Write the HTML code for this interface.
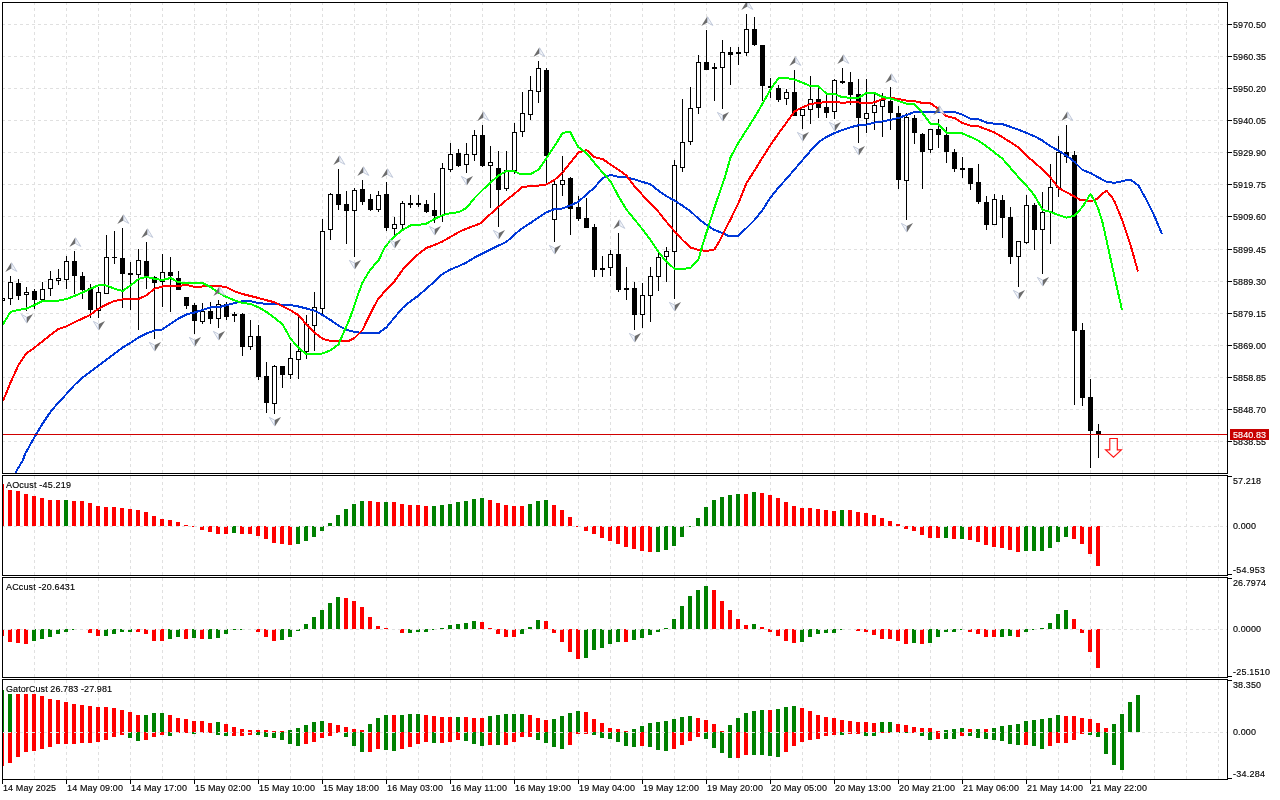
<!DOCTYPE html>
<html><head><meta charset="utf-8"><title>Chart</title>
<style>html,body{margin:0;padding:0;background:#fff;overflow:hidden}svg{display:block}</style></head>
<body><svg width="1280" height="800" viewBox="0 0 1280 800" shape-rendering="crispEdges">
<rect x="0" y="0" width="1280" height="800" fill="#fff"/>
<defs>
<pattern id="vd0" patternUnits="userSpaceOnUse" x="0" y="2" width="1280" height="6"><rect x="0" y="0" width="1280" height="3" fill="#e0e0e0"/></pattern>
<pattern id="vd1" patternUnits="userSpaceOnUse" x="0" y="476" width="1280" height="6"><rect x="0" y="0" width="1280" height="3" fill="#e0e0e0"/></pattern>
<pattern id="vd2" patternUnits="userSpaceOnUse" x="0" y="578" width="1280" height="6"><rect x="0" y="0" width="1280" height="3" fill="#e0e0e0"/></pattern>
<pattern id="vd3" patternUnits="userSpaceOnUse" x="0" y="680" width="1280" height="6"><rect x="0" y="0" width="1280" height="3" fill="#e0e0e0"/></pattern>
<pattern id="hd" patternUnits="userSpaceOnUse" x="2" y="0" width="6" height="800"><rect x="0" y="0" width="3" height="800" fill="#e0e0e0"/></pattern>
<clipPath id="cm"><rect x="3" y="3" width="1224" height="470"/></clipPath>
</defs>
<rect x="34" y="3" width="1" height="470" fill="url(#vd0)"/>
<rect x="66" y="3" width="1" height="470" fill="url(#vd0)"/>
<rect x="98" y="3" width="1" height="470" fill="url(#vd0)"/>
<rect x="130" y="3" width="1" height="470" fill="url(#vd0)"/>
<rect x="162" y="3" width="1" height="470" fill="url(#vd0)"/>
<rect x="194" y="3" width="1" height="470" fill="url(#vd0)"/>
<rect x="226" y="3" width="1" height="470" fill="url(#vd0)"/>
<rect x="258" y="3" width="1" height="470" fill="url(#vd0)"/>
<rect x="290" y="3" width="1" height="470" fill="url(#vd0)"/>
<rect x="322" y="3" width="1" height="470" fill="url(#vd0)"/>
<rect x="354" y="3" width="1" height="470" fill="url(#vd0)"/>
<rect x="386" y="3" width="1" height="470" fill="url(#vd0)"/>
<rect x="418" y="3" width="1" height="470" fill="url(#vd0)"/>
<rect x="450" y="3" width="1" height="470" fill="url(#vd0)"/>
<rect x="482" y="3" width="1" height="470" fill="url(#vd0)"/>
<rect x="514" y="3" width="1" height="470" fill="url(#vd0)"/>
<rect x="546" y="3" width="1" height="470" fill="url(#vd0)"/>
<rect x="578" y="3" width="1" height="470" fill="url(#vd0)"/>
<rect x="610" y="3" width="1" height="470" fill="url(#vd0)"/>
<rect x="642" y="3" width="1" height="470" fill="url(#vd0)"/>
<rect x="674" y="3" width="1" height="470" fill="url(#vd0)"/>
<rect x="706" y="3" width="1" height="470" fill="url(#vd0)"/>
<rect x="738" y="3" width="1" height="470" fill="url(#vd0)"/>
<rect x="770" y="3" width="1" height="470" fill="url(#vd0)"/>
<rect x="802" y="3" width="1" height="470" fill="url(#vd0)"/>
<rect x="834" y="3" width="1" height="470" fill="url(#vd0)"/>
<rect x="866" y="3" width="1" height="470" fill="url(#vd0)"/>
<rect x="898" y="3" width="1" height="470" fill="url(#vd0)"/>
<rect x="930" y="3" width="1" height="470" fill="url(#vd0)"/>
<rect x="962" y="3" width="1" height="470" fill="url(#vd0)"/>
<rect x="994" y="3" width="1" height="470" fill="url(#vd0)"/>
<rect x="1026" y="3" width="1" height="470" fill="url(#vd0)"/>
<rect x="1058" y="3" width="1" height="470" fill="url(#vd0)"/>
<rect x="1090" y="3" width="1" height="470" fill="url(#vd0)"/>
<rect x="1122" y="3" width="1" height="470" fill="url(#vd0)"/>
<rect x="1154" y="3" width="1" height="470" fill="url(#vd0)"/>
<rect x="1186" y="3" width="1" height="470" fill="url(#vd0)"/>
<rect x="1218" y="3" width="1" height="470" fill="url(#vd0)"/>
<rect x="34" y="476" width="1" height="99" fill="url(#vd1)"/>
<rect x="66" y="476" width="1" height="99" fill="url(#vd1)"/>
<rect x="98" y="476" width="1" height="99" fill="url(#vd1)"/>
<rect x="130" y="476" width="1" height="99" fill="url(#vd1)"/>
<rect x="162" y="476" width="1" height="99" fill="url(#vd1)"/>
<rect x="194" y="476" width="1" height="99" fill="url(#vd1)"/>
<rect x="226" y="476" width="1" height="99" fill="url(#vd1)"/>
<rect x="258" y="476" width="1" height="99" fill="url(#vd1)"/>
<rect x="290" y="476" width="1" height="99" fill="url(#vd1)"/>
<rect x="322" y="476" width="1" height="99" fill="url(#vd1)"/>
<rect x="354" y="476" width="1" height="99" fill="url(#vd1)"/>
<rect x="386" y="476" width="1" height="99" fill="url(#vd1)"/>
<rect x="418" y="476" width="1" height="99" fill="url(#vd1)"/>
<rect x="450" y="476" width="1" height="99" fill="url(#vd1)"/>
<rect x="482" y="476" width="1" height="99" fill="url(#vd1)"/>
<rect x="514" y="476" width="1" height="99" fill="url(#vd1)"/>
<rect x="546" y="476" width="1" height="99" fill="url(#vd1)"/>
<rect x="578" y="476" width="1" height="99" fill="url(#vd1)"/>
<rect x="610" y="476" width="1" height="99" fill="url(#vd1)"/>
<rect x="642" y="476" width="1" height="99" fill="url(#vd1)"/>
<rect x="674" y="476" width="1" height="99" fill="url(#vd1)"/>
<rect x="706" y="476" width="1" height="99" fill="url(#vd1)"/>
<rect x="738" y="476" width="1" height="99" fill="url(#vd1)"/>
<rect x="770" y="476" width="1" height="99" fill="url(#vd1)"/>
<rect x="802" y="476" width="1" height="99" fill="url(#vd1)"/>
<rect x="834" y="476" width="1" height="99" fill="url(#vd1)"/>
<rect x="866" y="476" width="1" height="99" fill="url(#vd1)"/>
<rect x="898" y="476" width="1" height="99" fill="url(#vd1)"/>
<rect x="930" y="476" width="1" height="99" fill="url(#vd1)"/>
<rect x="962" y="476" width="1" height="99" fill="url(#vd1)"/>
<rect x="994" y="476" width="1" height="99" fill="url(#vd1)"/>
<rect x="1026" y="476" width="1" height="99" fill="url(#vd1)"/>
<rect x="1058" y="476" width="1" height="99" fill="url(#vd1)"/>
<rect x="1090" y="476" width="1" height="99" fill="url(#vd1)"/>
<rect x="1122" y="476" width="1" height="99" fill="url(#vd1)"/>
<rect x="1154" y="476" width="1" height="99" fill="url(#vd1)"/>
<rect x="1186" y="476" width="1" height="99" fill="url(#vd1)"/>
<rect x="1218" y="476" width="1" height="99" fill="url(#vd1)"/>
<rect x="34" y="578" width="1" height="99" fill="url(#vd2)"/>
<rect x="66" y="578" width="1" height="99" fill="url(#vd2)"/>
<rect x="98" y="578" width="1" height="99" fill="url(#vd2)"/>
<rect x="130" y="578" width="1" height="99" fill="url(#vd2)"/>
<rect x="162" y="578" width="1" height="99" fill="url(#vd2)"/>
<rect x="194" y="578" width="1" height="99" fill="url(#vd2)"/>
<rect x="226" y="578" width="1" height="99" fill="url(#vd2)"/>
<rect x="258" y="578" width="1" height="99" fill="url(#vd2)"/>
<rect x="290" y="578" width="1" height="99" fill="url(#vd2)"/>
<rect x="322" y="578" width="1" height="99" fill="url(#vd2)"/>
<rect x="354" y="578" width="1" height="99" fill="url(#vd2)"/>
<rect x="386" y="578" width="1" height="99" fill="url(#vd2)"/>
<rect x="418" y="578" width="1" height="99" fill="url(#vd2)"/>
<rect x="450" y="578" width="1" height="99" fill="url(#vd2)"/>
<rect x="482" y="578" width="1" height="99" fill="url(#vd2)"/>
<rect x="514" y="578" width="1" height="99" fill="url(#vd2)"/>
<rect x="546" y="578" width="1" height="99" fill="url(#vd2)"/>
<rect x="578" y="578" width="1" height="99" fill="url(#vd2)"/>
<rect x="610" y="578" width="1" height="99" fill="url(#vd2)"/>
<rect x="642" y="578" width="1" height="99" fill="url(#vd2)"/>
<rect x="674" y="578" width="1" height="99" fill="url(#vd2)"/>
<rect x="706" y="578" width="1" height="99" fill="url(#vd2)"/>
<rect x="738" y="578" width="1" height="99" fill="url(#vd2)"/>
<rect x="770" y="578" width="1" height="99" fill="url(#vd2)"/>
<rect x="802" y="578" width="1" height="99" fill="url(#vd2)"/>
<rect x="834" y="578" width="1" height="99" fill="url(#vd2)"/>
<rect x="866" y="578" width="1" height="99" fill="url(#vd2)"/>
<rect x="898" y="578" width="1" height="99" fill="url(#vd2)"/>
<rect x="930" y="578" width="1" height="99" fill="url(#vd2)"/>
<rect x="962" y="578" width="1" height="99" fill="url(#vd2)"/>
<rect x="994" y="578" width="1" height="99" fill="url(#vd2)"/>
<rect x="1026" y="578" width="1" height="99" fill="url(#vd2)"/>
<rect x="1058" y="578" width="1" height="99" fill="url(#vd2)"/>
<rect x="1090" y="578" width="1" height="99" fill="url(#vd2)"/>
<rect x="1122" y="578" width="1" height="99" fill="url(#vd2)"/>
<rect x="1154" y="578" width="1" height="99" fill="url(#vd2)"/>
<rect x="1186" y="578" width="1" height="99" fill="url(#vd2)"/>
<rect x="1218" y="578" width="1" height="99" fill="url(#vd2)"/>
<rect x="34" y="680" width="1" height="99" fill="url(#vd3)"/>
<rect x="66" y="680" width="1" height="99" fill="url(#vd3)"/>
<rect x="98" y="680" width="1" height="99" fill="url(#vd3)"/>
<rect x="130" y="680" width="1" height="99" fill="url(#vd3)"/>
<rect x="162" y="680" width="1" height="99" fill="url(#vd3)"/>
<rect x="194" y="680" width="1" height="99" fill="url(#vd3)"/>
<rect x="226" y="680" width="1" height="99" fill="url(#vd3)"/>
<rect x="258" y="680" width="1" height="99" fill="url(#vd3)"/>
<rect x="290" y="680" width="1" height="99" fill="url(#vd3)"/>
<rect x="322" y="680" width="1" height="99" fill="url(#vd3)"/>
<rect x="354" y="680" width="1" height="99" fill="url(#vd3)"/>
<rect x="386" y="680" width="1" height="99" fill="url(#vd3)"/>
<rect x="418" y="680" width="1" height="99" fill="url(#vd3)"/>
<rect x="450" y="680" width="1" height="99" fill="url(#vd3)"/>
<rect x="482" y="680" width="1" height="99" fill="url(#vd3)"/>
<rect x="514" y="680" width="1" height="99" fill="url(#vd3)"/>
<rect x="546" y="680" width="1" height="99" fill="url(#vd3)"/>
<rect x="578" y="680" width="1" height="99" fill="url(#vd3)"/>
<rect x="610" y="680" width="1" height="99" fill="url(#vd3)"/>
<rect x="642" y="680" width="1" height="99" fill="url(#vd3)"/>
<rect x="674" y="680" width="1" height="99" fill="url(#vd3)"/>
<rect x="706" y="680" width="1" height="99" fill="url(#vd3)"/>
<rect x="738" y="680" width="1" height="99" fill="url(#vd3)"/>
<rect x="770" y="680" width="1" height="99" fill="url(#vd3)"/>
<rect x="802" y="680" width="1" height="99" fill="url(#vd3)"/>
<rect x="834" y="680" width="1" height="99" fill="url(#vd3)"/>
<rect x="866" y="680" width="1" height="99" fill="url(#vd3)"/>
<rect x="898" y="680" width="1" height="99" fill="url(#vd3)"/>
<rect x="930" y="680" width="1" height="99" fill="url(#vd3)"/>
<rect x="962" y="680" width="1" height="99" fill="url(#vd3)"/>
<rect x="994" y="680" width="1" height="99" fill="url(#vd3)"/>
<rect x="1026" y="680" width="1" height="99" fill="url(#vd3)"/>
<rect x="1058" y="680" width="1" height="99" fill="url(#vd3)"/>
<rect x="1090" y="680" width="1" height="99" fill="url(#vd3)"/>
<rect x="1122" y="680" width="1" height="99" fill="url(#vd3)"/>
<rect x="1154" y="680" width="1" height="99" fill="url(#vd3)"/>
<rect x="1186" y="680" width="1" height="99" fill="url(#vd3)"/>
<rect x="1218" y="680" width="1" height="99" fill="url(#vd3)"/>
<rect x="3" y="24" width="1224" height="1" fill="url(#hd)"/>
<rect x="3" y="56" width="1224" height="1" fill="url(#hd)"/>
<rect x="3" y="88" width="1224" height="1" fill="url(#hd)"/>
<rect x="3" y="120" width="1224" height="1" fill="url(#hd)"/>
<rect x="3" y="152" width="1224" height="1" fill="url(#hd)"/>
<rect x="3" y="184" width="1224" height="1" fill="url(#hd)"/>
<rect x="3" y="216" width="1224" height="1" fill="url(#hd)"/>
<rect x="3" y="249" width="1224" height="1" fill="url(#hd)"/>
<rect x="3" y="281" width="1224" height="1" fill="url(#hd)"/>
<rect x="3" y="313" width="1224" height="1" fill="url(#hd)"/>
<rect x="3" y="345" width="1224" height="1" fill="url(#hd)"/>
<rect x="3" y="377" width="1224" height="1" fill="url(#hd)"/>
<rect x="3" y="409" width="1224" height="1" fill="url(#hd)"/>
<rect x="3" y="441" width="1224" height="1" fill="url(#hd)"/>
<g clip-path="url(#cm)">
<rect x="2" y="298" width="1" height="3" fill="#000"/>
<rect x="0" y="298" width="5" height="3" fill="#000"/>
<rect x="1" y="299" width="3" height="1" fill="#fff"/>
<rect x="10" y="276" width="1" height="29" fill="#000"/>
<rect x="8" y="282" width="5" height="17" fill="#000"/>
<rect x="9" y="283" width="3" height="15" fill="#fff"/>
<rect x="18" y="279" width="1" height="21" fill="#000"/>
<rect x="16" y="283" width="5" height="13" fill="#000"/>
<rect x="26" y="287" width="1" height="24" fill="#000"/>
<rect x="24" y="292" width="5" height="3" fill="#000"/>
<rect x="25" y="293" width="3" height="1" fill="#fff"/>
<rect x="34" y="289" width="1" height="20" fill="#000"/>
<rect x="32" y="291" width="5" height="9" fill="#000"/>
<rect x="42" y="282" width="1" height="19" fill="#000"/>
<rect x="40" y="289" width="5" height="11" fill="#000"/>
<rect x="41" y="290" width="3" height="9" fill="#fff"/>
<rect x="50" y="271" width="1" height="25" fill="#000"/>
<rect x="48" y="279" width="5" height="10" fill="#000"/>
<rect x="49" y="280" width="3" height="8" fill="#fff"/>
<rect x="58" y="269" width="1" height="16" fill="#000"/>
<rect x="56" y="278" width="5" height="3" fill="#000"/>
<rect x="57" y="279" width="3" height="1" fill="#fff"/>
<rect x="66" y="256" width="1" height="33" fill="#000"/>
<rect x="64" y="261" width="5" height="19" fill="#000"/>
<rect x="65" y="262" width="3" height="17" fill="#fff"/>
<rect x="74" y="251" width="1" height="43" fill="#000"/>
<rect x="72" y="261" width="5" height="15" fill="#000"/>
<rect x="82" y="272" width="1" height="27" fill="#000"/>
<rect x="80" y="276" width="5" height="14" fill="#000"/>
<rect x="90" y="284" width="1" height="34" fill="#000"/>
<rect x="88" y="288" width="5" height="22" fill="#000"/>
<rect x="98" y="287" width="1" height="31" fill="#000"/>
<rect x="96" y="292" width="5" height="19" fill="#000"/>
<rect x="97" y="293" width="3" height="17" fill="#fff"/>
<rect x="106" y="235" width="1" height="59" fill="#000"/>
<rect x="104" y="257" width="5" height="37" fill="#000"/>
<rect x="105" y="258" width="3" height="35" fill="#fff"/>
<rect x="114" y="231" width="1" height="33" fill="#000"/>
<rect x="112" y="257" width="5" height="1" fill="#000"/>
<rect x="122" y="228" width="1" height="80" fill="#000"/>
<rect x="120" y="258" width="5" height="16" fill="#000"/>
<rect x="130" y="262" width="1" height="48" fill="#000"/>
<rect x="128" y="273" width="5" height="2" fill="#000"/>
<rect x="138" y="249" width="1" height="81" fill="#000"/>
<rect x="136" y="260" width="5" height="15" fill="#000"/>
<rect x="137" y="261" width="3" height="13" fill="#fff"/>
<rect x="146" y="242" width="1" height="47" fill="#000"/>
<rect x="144" y="261" width="5" height="16" fill="#000"/>
<rect x="154" y="276" width="1" height="63" fill="#000"/>
<rect x="152" y="277" width="5" height="6" fill="#000"/>
<rect x="162" y="254" width="1" height="53" fill="#000"/>
<rect x="160" y="272" width="5" height="10" fill="#000"/>
<rect x="161" y="273" width="3" height="8" fill="#fff"/>
<rect x="170" y="257" width="1" height="55" fill="#000"/>
<rect x="168" y="272" width="5" height="4" fill="#000"/>
<rect x="178" y="271" width="1" height="19" fill="#000"/>
<rect x="176" y="278" width="5" height="12" fill="#000"/>
<rect x="186" y="297" width="1" height="12" fill="#000"/>
<rect x="184" y="297" width="5" height="9" fill="#000"/>
<rect x="194" y="303" width="1" height="31" fill="#000"/>
<rect x="192" y="305" width="5" height="16" fill="#000"/>
<rect x="202" y="303" width="1" height="21" fill="#000"/>
<rect x="200" y="311" width="5" height="11" fill="#000"/>
<rect x="201" y="312" width="3" height="9" fill="#fff"/>
<rect x="210" y="302" width="1" height="22" fill="#000"/>
<rect x="208" y="311" width="5" height="8" fill="#000"/>
<rect x="218" y="300" width="1" height="28" fill="#000"/>
<rect x="216" y="304" width="5" height="15" fill="#000"/>
<rect x="217" y="305" width="3" height="13" fill="#fff"/>
<rect x="226" y="302" width="1" height="18" fill="#000"/>
<rect x="224" y="304" width="5" height="13" fill="#000"/>
<rect x="234" y="312" width="1" height="10" fill="#000"/>
<rect x="232" y="314" width="5" height="2" fill="#000"/>
<rect x="242" y="313" width="1" height="43" fill="#000"/>
<rect x="240" y="314" width="5" height="33" fill="#000"/>
<rect x="250" y="320" width="1" height="30" fill="#000"/>
<rect x="248" y="336" width="5" height="11" fill="#000"/>
<rect x="249" y="337" width="3" height="9" fill="#fff"/>
<rect x="258" y="325" width="1" height="55" fill="#000"/>
<rect x="256" y="336" width="5" height="41" fill="#000"/>
<rect x="266" y="362" width="1" height="51" fill="#000"/>
<rect x="264" y="376" width="5" height="27" fill="#000"/>
<rect x="274" y="365" width="1" height="49" fill="#000"/>
<rect x="272" y="366" width="5" height="38" fill="#000"/>
<rect x="273" y="367" width="3" height="36" fill="#fff"/>
<rect x="282" y="366" width="1" height="22" fill="#000"/>
<rect x="280" y="366" width="5" height="9" fill="#000"/>
<rect x="290" y="343" width="1" height="36" fill="#000"/>
<rect x="288" y="358" width="5" height="17" fill="#000"/>
<rect x="289" y="359" width="3" height="15" fill="#fff"/>
<rect x="298" y="316" width="1" height="63" fill="#000"/>
<rect x="296" y="351" width="5" height="9" fill="#000"/>
<rect x="297" y="352" width="3" height="7" fill="#fff"/>
<rect x="306" y="315" width="1" height="44" fill="#000"/>
<rect x="304" y="324" width="5" height="28" fill="#000"/>
<rect x="305" y="325" width="3" height="26" fill="#fff"/>
<rect x="314" y="292" width="1" height="59" fill="#000"/>
<rect x="312" y="307" width="5" height="19" fill="#000"/>
<rect x="313" y="308" width="3" height="17" fill="#fff"/>
<rect x="322" y="219" width="1" height="95" fill="#000"/>
<rect x="320" y="231" width="5" height="78" fill="#000"/>
<rect x="321" y="232" width="3" height="76" fill="#fff"/>
<rect x="330" y="193" width="1" height="47" fill="#000"/>
<rect x="328" y="194" width="5" height="36" fill="#000"/>
<rect x="329" y="195" width="3" height="34" fill="#fff"/>
<rect x="338" y="169" width="1" height="41" fill="#000"/>
<rect x="336" y="194" width="5" height="11" fill="#000"/>
<rect x="346" y="191" width="1" height="53" fill="#000"/>
<rect x="344" y="204" width="5" height="7" fill="#000"/>
<rect x="354" y="188" width="1" height="69" fill="#000"/>
<rect x="352" y="190" width="5" height="21" fill="#000"/>
<rect x="353" y="191" width="3" height="19" fill="#fff"/>
<rect x="362" y="180" width="1" height="25" fill="#000"/>
<rect x="360" y="189" width="5" height="13" fill="#000"/>
<rect x="370" y="194" width="1" height="17" fill="#000"/>
<rect x="368" y="199" width="5" height="11" fill="#000"/>
<rect x="378" y="191" width="1" height="21" fill="#000"/>
<rect x="376" y="195" width="5" height="15" fill="#000"/>
<rect x="377" y="196" width="3" height="13" fill="#fff"/>
<rect x="386" y="182" width="1" height="49" fill="#000"/>
<rect x="384" y="194" width="5" height="34" fill="#000"/>
<rect x="394" y="217" width="1" height="19" fill="#000"/>
<rect x="392" y="224" width="5" height="5" fill="#000"/>
<rect x="393" y="225" width="3" height="3" fill="#fff"/>
<rect x="402" y="201" width="1" height="28" fill="#000"/>
<rect x="400" y="203" width="5" height="22" fill="#000"/>
<rect x="401" y="204" width="3" height="20" fill="#fff"/>
<rect x="410" y="195" width="1" height="13" fill="#000"/>
<rect x="408" y="203" width="5" height="2" fill="#000"/>
<rect x="418" y="195" width="1" height="12" fill="#000"/>
<rect x="416" y="203" width="5" height="2" fill="#000"/>
<rect x="426" y="200" width="1" height="13" fill="#000"/>
<rect x="424" y="204" width="5" height="8" fill="#000"/>
<rect x="434" y="193" width="1" height="30" fill="#000"/>
<rect x="432" y="210" width="5" height="6" fill="#000"/>
<rect x="442" y="163" width="1" height="59" fill="#000"/>
<rect x="440" y="168" width="5" height="48" fill="#000"/>
<rect x="441" y="169" width="3" height="46" fill="#fff"/>
<rect x="450" y="143" width="1" height="29" fill="#000"/>
<rect x="448" y="154" width="5" height="16" fill="#000"/>
<rect x="449" y="155" width="3" height="14" fill="#fff"/>
<rect x="458" y="149" width="1" height="18" fill="#000"/>
<rect x="456" y="153" width="5" height="13" fill="#000"/>
<rect x="466" y="143" width="1" height="30" fill="#000"/>
<rect x="464" y="154" width="5" height="11" fill="#000"/>
<rect x="465" y="155" width="3" height="9" fill="#fff"/>
<rect x="474" y="130" width="1" height="31" fill="#000"/>
<rect x="472" y="135" width="5" height="20" fill="#000"/>
<rect x="473" y="136" width="3" height="18" fill="#fff"/>
<rect x="482" y="125" width="1" height="42" fill="#000"/>
<rect x="480" y="135" width="5" height="31" fill="#000"/>
<rect x="490" y="146" width="1" height="62" fill="#000"/>
<rect x="488" y="162" width="5" height="4" fill="#000"/>
<rect x="489" y="163" width="3" height="2" fill="#fff"/>
<rect x="498" y="151" width="1" height="76" fill="#000"/>
<rect x="496" y="168" width="5" height="22" fill="#000"/>
<rect x="506" y="151" width="1" height="40" fill="#000"/>
<rect x="504" y="170" width="5" height="19" fill="#000"/>
<rect x="505" y="171" width="3" height="17" fill="#fff"/>
<rect x="514" y="123" width="1" height="51" fill="#000"/>
<rect x="512" y="132" width="5" height="39" fill="#000"/>
<rect x="513" y="133" width="3" height="37" fill="#fff"/>
<rect x="522" y="92" width="1" height="45" fill="#000"/>
<rect x="520" y="113" width="5" height="19" fill="#000"/>
<rect x="521" y="114" width="3" height="17" fill="#fff"/>
<rect x="530" y="76" width="1" height="44" fill="#000"/>
<rect x="528" y="90" width="5" height="25" fill="#000"/>
<rect x="529" y="91" width="3" height="23" fill="#fff"/>
<rect x="538" y="61" width="1" height="42" fill="#000"/>
<rect x="536" y="68" width="5" height="24" fill="#000"/>
<rect x="537" y="69" width="3" height="22" fill="#fff"/>
<rect x="546" y="68" width="1" height="116" fill="#000"/>
<rect x="544" y="70" width="5" height="86" fill="#000"/>
<rect x="554" y="181" width="1" height="61" fill="#000"/>
<rect x="552" y="184" width="5" height="36" fill="#000"/>
<rect x="553" y="185" width="3" height="34" fill="#fff"/>
<rect x="562" y="156" width="1" height="40" fill="#000"/>
<rect x="560" y="180" width="5" height="5" fill="#000"/>
<rect x="561" y="181" width="3" height="3" fill="#fff"/>
<rect x="570" y="177" width="1" height="58" fill="#000"/>
<rect x="568" y="178" width="5" height="31" fill="#000"/>
<rect x="578" y="196" width="1" height="25" fill="#000"/>
<rect x="576" y="207" width="5" height="12" fill="#000"/>
<rect x="586" y="198" width="1" height="30" fill="#000"/>
<rect x="584" y="218" width="5" height="10" fill="#000"/>
<rect x="594" y="224" width="1" height="53" fill="#000"/>
<rect x="592" y="227" width="5" height="43" fill="#000"/>
<rect x="602" y="256" width="1" height="21" fill="#000"/>
<rect x="600" y="268" width="5" height="2" fill="#000"/>
<rect x="610" y="250" width="1" height="26" fill="#000"/>
<rect x="608" y="254" width="5" height="14" fill="#000"/>
<rect x="609" y="255" width="3" height="12" fill="#fff"/>
<rect x="618" y="233" width="1" height="59" fill="#000"/>
<rect x="616" y="254" width="5" height="36" fill="#000"/>
<rect x="626" y="267" width="1" height="33" fill="#000"/>
<rect x="624" y="288" width="5" height="2" fill="#000"/>
<rect x="634" y="282" width="1" height="48" fill="#000"/>
<rect x="632" y="288" width="5" height="27" fill="#000"/>
<rect x="642" y="283" width="1" height="45" fill="#000"/>
<rect x="640" y="295" width="5" height="20" fill="#000"/>
<rect x="641" y="296" width="3" height="18" fill="#fff"/>
<rect x="650" y="267" width="1" height="55" fill="#000"/>
<rect x="648" y="276" width="5" height="20" fill="#000"/>
<rect x="649" y="277" width="3" height="18" fill="#fff"/>
<rect x="658" y="250" width="1" height="41" fill="#000"/>
<rect x="656" y="257" width="5" height="20" fill="#000"/>
<rect x="657" y="258" width="3" height="18" fill="#fff"/>
<rect x="666" y="247" width="1" height="35" fill="#000"/>
<rect x="664" y="251" width="5" height="6" fill="#000"/>
<rect x="665" y="252" width="3" height="4" fill="#fff"/>
<rect x="674" y="160" width="1" height="139" fill="#000"/>
<rect x="672" y="165" width="5" height="87" fill="#000"/>
<rect x="673" y="166" width="3" height="85" fill="#fff"/>
<rect x="682" y="99" width="1" height="73" fill="#000"/>
<rect x="680" y="142" width="5" height="26" fill="#000"/>
<rect x="681" y="143" width="3" height="24" fill="#fff"/>
<rect x="690" y="87" width="1" height="58" fill="#000"/>
<rect x="688" y="108" width="5" height="34" fill="#000"/>
<rect x="689" y="109" width="3" height="32" fill="#fff"/>
<rect x="698" y="55" width="1" height="59" fill="#000"/>
<rect x="696" y="62" width="5" height="46" fill="#000"/>
<rect x="697" y="63" width="3" height="44" fill="#fff"/>
<rect x="706" y="30" width="1" height="40" fill="#000"/>
<rect x="704" y="62" width="5" height="8" fill="#000"/>
<rect x="714" y="63" width="1" height="38" fill="#000"/>
<rect x="712" y="67" width="5" height="2" fill="#000"/>
<rect x="722" y="40" width="1" height="69" fill="#000"/>
<rect x="720" y="52" width="5" height="16" fill="#000"/>
<rect x="721" y="53" width="3" height="14" fill="#fff"/>
<rect x="730" y="47" width="1" height="38" fill="#000"/>
<rect x="728" y="52" width="5" height="3" fill="#000"/>
<rect x="738" y="47" width="1" height="18" fill="#000"/>
<rect x="736" y="52" width="5" height="2" fill="#000"/>
<rect x="746" y="14" width="1" height="42" fill="#000"/>
<rect x="744" y="29" width="5" height="24" fill="#000"/>
<rect x="745" y="30" width="3" height="22" fill="#fff"/>
<rect x="754" y="17" width="1" height="29" fill="#000"/>
<rect x="752" y="29" width="5" height="16" fill="#000"/>
<rect x="762" y="45" width="1" height="56" fill="#000"/>
<rect x="760" y="45" width="5" height="41" fill="#000"/>
<rect x="770" y="78" width="1" height="20" fill="#000"/>
<rect x="768" y="86" width="5" height="2" fill="#000"/>
<rect x="778" y="85" width="1" height="17" fill="#000"/>
<rect x="776" y="88" width="5" height="12" fill="#000"/>
<rect x="786" y="89" width="1" height="16" fill="#000"/>
<rect x="784" y="92" width="5" height="7" fill="#000"/>
<rect x="785" y="93" width="3" height="5" fill="#fff"/>
<rect x="794" y="70" width="1" height="46" fill="#000"/>
<rect x="792" y="92" width="5" height="24" fill="#000"/>
<rect x="802" y="109" width="1" height="20" fill="#000"/>
<rect x="800" y="109" width="5" height="7" fill="#000"/>
<rect x="801" y="110" width="3" height="5" fill="#fff"/>
<rect x="810" y="76" width="1" height="48" fill="#000"/>
<rect x="808" y="99" width="5" height="11" fill="#000"/>
<rect x="809" y="100" width="3" height="9" fill="#fff"/>
<rect x="818" y="88" width="1" height="30" fill="#000"/>
<rect x="816" y="99" width="5" height="9" fill="#000"/>
<rect x="826" y="95" width="1" height="23" fill="#000"/>
<rect x="824" y="107" width="5" height="6" fill="#000"/>
<rect x="834" y="79" width="1" height="40" fill="#000"/>
<rect x="832" y="80" width="5" height="32" fill="#000"/>
<rect x="833" y="81" width="3" height="30" fill="#fff"/>
<rect x="842" y="68" width="1" height="16" fill="#000"/>
<rect x="840" y="81" width="5" height="2" fill="#000"/>
<rect x="850" y="72" width="1" height="33" fill="#000"/>
<rect x="848" y="82" width="5" height="13" fill="#000"/>
<rect x="858" y="79" width="1" height="64" fill="#000"/>
<rect x="856" y="94" width="5" height="24" fill="#000"/>
<rect x="866" y="79" width="1" height="54" fill="#000"/>
<rect x="864" y="113" width="5" height="6" fill="#000"/>
<rect x="865" y="114" width="3" height="4" fill="#fff"/>
<rect x="874" y="93" width="1" height="37" fill="#000"/>
<rect x="872" y="105" width="5" height="8" fill="#000"/>
<rect x="873" y="106" width="3" height="6" fill="#fff"/>
<rect x="882" y="93" width="1" height="44" fill="#000"/>
<rect x="880" y="100" width="5" height="7" fill="#000"/>
<rect x="881" y="101" width="3" height="5" fill="#fff"/>
<rect x="890" y="87" width="1" height="43" fill="#000"/>
<rect x="888" y="101" width="5" height="12" fill="#000"/>
<rect x="898" y="106" width="1" height="83" fill="#000"/>
<rect x="896" y="113" width="5" height="67" fill="#000"/>
<rect x="906" y="113" width="1" height="107" fill="#000"/>
<rect x="904" y="117" width="5" height="64" fill="#000"/>
<rect x="905" y="118" width="3" height="62" fill="#fff"/>
<rect x="914" y="115" width="1" height="29" fill="#000"/>
<rect x="912" y="118" width="5" height="15" fill="#000"/>
<rect x="922" y="133" width="1" height="56" fill="#000"/>
<rect x="920" y="134" width="5" height="18" fill="#000"/>
<rect x="930" y="129" width="1" height="24" fill="#000"/>
<rect x="928" y="129" width="5" height="21" fill="#000"/>
<rect x="929" y="130" width="3" height="19" fill="#fff"/>
<rect x="938" y="119" width="1" height="29" fill="#000"/>
<rect x="936" y="129" width="5" height="6" fill="#000"/>
<rect x="946" y="127" width="1" height="36" fill="#000"/>
<rect x="944" y="135" width="5" height="17" fill="#000"/>
<rect x="954" y="149" width="1" height="23" fill="#000"/>
<rect x="952" y="152" width="5" height="17" fill="#000"/>
<rect x="962" y="157" width="1" height="21" fill="#000"/>
<rect x="960" y="168" width="5" height="2" fill="#000"/>
<rect x="970" y="168" width="1" height="22" fill="#000"/>
<rect x="968" y="168" width="5" height="16" fill="#000"/>
<rect x="978" y="164" width="1" height="40" fill="#000"/>
<rect x="976" y="182" width="5" height="20" fill="#000"/>
<rect x="986" y="196" width="1" height="34" fill="#000"/>
<rect x="984" y="202" width="5" height="23" fill="#000"/>
<rect x="994" y="194" width="1" height="31" fill="#000"/>
<rect x="992" y="199" width="5" height="26" fill="#000"/>
<rect x="993" y="200" width="3" height="24" fill="#fff"/>
<rect x="1002" y="195" width="1" height="43" fill="#000"/>
<rect x="1000" y="200" width="5" height="18" fill="#000"/>
<rect x="1010" y="207" width="1" height="57" fill="#000"/>
<rect x="1008" y="217" width="5" height="40" fill="#000"/>
<rect x="1018" y="241" width="1" height="46" fill="#000"/>
<rect x="1016" y="241" width="5" height="16" fill="#000"/>
<rect x="1017" y="242" width="3" height="14" fill="#fff"/>
<rect x="1026" y="195" width="1" height="49" fill="#000"/>
<rect x="1024" y="205" width="5" height="38" fill="#000"/>
<rect x="1025" y="206" width="3" height="36" fill="#fff"/>
<rect x="1034" y="203" width="1" height="47" fill="#000"/>
<rect x="1032" y="205" width="5" height="25" fill="#000"/>
<rect x="1042" y="192" width="1" height="82" fill="#000"/>
<rect x="1040" y="212" width="5" height="18" fill="#000"/>
<rect x="1041" y="213" width="3" height="16" fill="#fff"/>
<rect x="1050" y="164" width="1" height="80" fill="#000"/>
<rect x="1048" y="187" width="5" height="25" fill="#000"/>
<rect x="1049" y="188" width="3" height="23" fill="#fff"/>
<rect x="1058" y="136" width="1" height="61" fill="#000"/>
<rect x="1056" y="152" width="5" height="36" fill="#000"/>
<rect x="1057" y="153" width="3" height="34" fill="#fff"/>
<rect x="1066" y="125" width="1" height="38" fill="#000"/>
<rect x="1064" y="152" width="5" height="5" fill="#000"/>
<rect x="1074" y="151" width="1" height="254" fill="#000"/>
<rect x="1072" y="155" width="5" height="176" fill="#000"/>
<rect x="1082" y="323" width="1" height="83" fill="#000"/>
<rect x="1080" y="330" width="5" height="68" fill="#000"/>
<rect x="1090" y="379" width="1" height="89" fill="#000"/>
<rect x="1088" y="397" width="5" height="34" fill="#000"/>
<rect x="1098" y="424" width="1" height="34" fill="#000"/>
<rect x="1096" y="431" width="5" height="4" fill="#000"/>
<polyline points="14.50,475.00 17.00,470.00 23.00,460.00 25.00,454.00 34.00,438.00 42.00,424.50 50.00,412.50 58.00,403.00 66.00,394.50 74.00,385.50 82.00,378.00 90.00,372.00 98.00,366.00 106.00,360.00 114.00,354.00 122.00,348.00 130.50,342.75 138.50,337.50 146.50,333.50 154.50,330.60 162.50,329.40 170.50,323.75 178.50,318.50 186.50,314.40 194.50,312.50 202.50,310.00 210.50,307.50 218.50,307.25 226.50,305.25 234.50,303.00 242.50,301.25 250.50,301.25 258.50,303.00 266.50,304.00 274.50,304.00 282.50,304.75 290.50,305.10 298.50,306.50 306.50,308.50 314.50,310.60 322.50,315.00 330.50,320.00 338.50,325.60 346.50,330.00 354.50,331.90 362.50,333.00 370.50,333.00 378.50,333.00 386.25,327.50 394.50,317.50 402.50,308.00 410.50,301.25 418.50,295.60 426.50,288.40 434.50,281.60 442.50,274.00 450.50,269.40 458.50,266.25 466.50,262.50 474.50,257.50 480.00,254.90 490.50,249.40 498.50,245.60 506.50,241.90 514.50,234.40 522.50,228.00 530.50,223.00 538.50,217.50 546.50,212.20 554.50,209.20 562.50,208.50 570.50,205.40 578.50,201.70 586.50,194.40 594.50,187.50 602.50,178.00 610.50,175.00 618.50,176.90 626.50,177.25 634.50,179.40 640.00,181.10 650.50,184.40 658.50,190.60 666.50,196.25 674.50,200.60 682.50,205.60 690.50,211.25 698.50,218.75 706.50,225.00 714.50,230.00 722.50,233.00 727.50,235.60 738.50,235.60 746.50,228.00 754.50,220.00 762.50,210.00 770.50,197.50 778.50,187.50 786.50,178.75 794.50,169.40 800.00,163.00 811.25,150.00 818.50,142.25 826.50,136.90 834.50,133.00 842.50,130.00 850.50,127.25 858.50,125.25 866.50,124.75 874.50,122.60 882.50,121.40 890.50,119.90 898.50,118.00 906.50,115.00 914.50,112.00 922.50,112.00 930.50,112.00 938.50,112.00 946.50,112.00 954.50,112.00 962.50,114.75 970.50,118.75 978.50,119.40 986.50,122.50 994.50,123.75 1002.50,124.20 1010.50,126.90 1018.50,129.70 1026.50,133.00 1034.50,136.25 1042.50,140.60 1050.50,146.25 1058.50,150.60 1066.50,155.60 1074.50,161.90 1082.50,170.00 1090.50,173.00 1098.50,177.50 1106.50,181.90 1114.50,182.75 1122.50,181.25 1127.50,179.75 1130.50,179.75 1138.50,185.60 1146.50,200.00 1154.50,216.25 1160.00,229.40 1162.00,234.00" fill="none" stroke="#0038d8" stroke-width="2" stroke-linejoin="round"/>
<polyline points="3.00,401.00 10.00,383.75 18.00,366.00 26.00,353.75 34.00,348.00 42.50,341.25 50.50,335.00 58.50,329.00 66.50,326.25 74.50,322.25 82.50,318.50 90.50,314.75 98.50,308.75 106.50,304.40 114.50,301.00 122.50,299.40 130.50,299.00 138.50,299.00 146.50,295.25 154.50,288.75 162.50,286.50 170.50,286.25 178.50,286.00 186.50,285.00 194.50,286.90 202.50,286.50 210.50,286.00 218.50,286.00 226.50,287.25 234.50,291.25 242.50,294.00 250.50,296.00 258.50,298.00 266.50,300.25 274.50,302.25 282.50,306.25 290.50,310.30 298.50,315.30 306.50,324.40 314.50,332.60 322.50,338.75 330.50,341.00 338.50,341.00 348.50,341.00 354.50,338.00 362.50,330.00 370.50,313.30 377.50,300.00 385.00,291.00 394.50,281.25 402.50,270.00 410.50,261.25 418.75,253.75 426.25,248.00 434.50,245.00 442.50,241.50 450.50,236.90 458.50,232.20 466.50,228.60 474.50,225.60 480.00,223.60 490.50,214.00 498.50,206.90 506.50,200.00 514.50,193.75 522.50,186.90 530.50,186.25 538.50,185.60 546.50,184.40 554.50,180.00 562.50,172.50 570.50,162.50 578.50,152.50 586.50,150.00 594.50,157.25 602.50,159.00 610.50,164.40 618.50,169.75 626.50,175.60 634.50,186.25 640.00,192.30 650.50,203.75 658.50,211.90 666.50,221.90 674.50,231.25 682.50,240.00 690.50,247.50 698.50,250.00 706.50,251.00 714.50,249.40 720.00,240.00 723.75,232.50 730.50,219.40 738.50,203.00 743.75,190.00 746.50,183.00 754.50,170.60 762.50,157.50 770.50,145.00 778.50,133.50 786.50,122.50 794.50,111.50 802.50,107.25 810.50,104.00 818.50,103.00 826.50,101.90 834.50,101.90 842.50,102.75 850.50,102.25 858.50,102.50 866.50,103.00 874.50,102.40 882.50,99.00 890.50,97.75 898.50,99.00 906.50,100.60 914.50,101.25 922.50,102.90 930.50,103.30 938.50,109.00 946.50,116.25 954.50,118.00 962.50,123.00 970.50,125.60 978.50,126.25 986.50,129.40 994.50,132.50 1002.50,137.20 1010.50,142.20 1018.50,147.60 1026.50,155.60 1034.50,162.50 1042.50,169.40 1050.50,177.50 1058.50,188.00 1066.50,192.20 1074.50,196.60 1081.25,200.40 1092.50,200.60 1097.50,198.70 1101.25,194.40 1106.50,190.70 1112.50,198.00 1115.00,202.50 1117.00,207.50 1122.50,221.00 1130.50,245.00 1138.00,271.50" fill="none" stroke="#ff0000" stroke-width="2" stroke-linejoin="round"/>
<polyline points="2.50,325.00 10.50,311.90 18.50,310.00 26.50,308.50 34.50,305.00 42.50,301.00 50.50,300.70 58.50,300.60 66.50,299.00 74.50,296.00 82.50,292.50 90.50,288.75 98.50,285.25 102.50,284.75 106.50,285.60 114.50,288.75 122.50,291.00 130.50,285.60 138.50,279.00 146.50,276.90 154.50,278.75 162.50,280.00 170.50,278.00 178.50,282.25 186.50,283.00 194.50,283.00 202.50,283.00 210.50,287.00 218.50,292.75 226.50,297.00 234.50,300.25 242.50,303.00 250.50,304.00 258.50,307.25 266.50,312.00 274.50,317.75 282.50,324.40 290.50,338.50 298.50,348.00 306.50,354.00 314.50,354.00 322.50,353.50 330.50,350.25 338.50,344.40 342.50,335.00 346.50,326.25 350.60,316.25 354.50,305.00 358.75,292.50 362.50,282.50 370.00,270.00 378.75,260.00 385.00,246.90 394.50,236.25 402.50,230.00 410.50,225.40 418.50,225.00 426.50,223.50 434.50,219.00 442.50,215.25 450.50,213.00 458.50,212.25 466.50,208.00 474.50,198.00 482.50,190.00 490.50,182.50 498.50,175.60 506.50,171.00 514.50,171.25 520.00,174.00 530.50,174.00 538.50,169.75 546.50,158.00 554.50,146.25 562.50,133.00 567.50,131.90 570.50,132.50 575.00,141.25 578.50,147.25 586.50,153.00 594.50,163.00 602.50,172.50 610.50,181.25 618.50,196.25 626.50,209.70 634.50,219.40 640.00,226.25 645.00,232.50 650.50,240.00 658.50,251.90 666.50,261.90 674.50,268.75 682.50,269.00 690.50,268.00 698.50,259.40 702.50,245.00 706.50,232.50 710.60,220.00 714.50,207.50 718.75,195.00 722.50,183.75 725.00,177.00 727.50,168.00 730.50,157.50 738.50,142.50 746.50,130.00 754.50,117.50 762.50,103.75 770.50,89.50 778.50,78.00 786.50,78.00 794.50,79.60 802.50,82.75 810.50,86.00 818.50,86.25 826.50,93.75 834.50,94.00 842.50,97.25 850.50,97.75 858.50,97.75 866.50,93.00 874.50,93.00 882.50,96.90 890.50,98.50 898.50,101.00 906.50,103.75 914.50,104.20 922.50,113.00 930.50,123.75 938.50,124.20 946.50,132.75 954.50,133.00 962.50,133.50 970.50,136.90 978.50,140.60 986.50,146.25 994.50,152.50 1002.50,158.75 1010.50,168.00 1018.50,177.20 1026.50,185.60 1034.50,195.50 1042.50,209.75 1050.50,211.90 1058.50,215.00 1066.50,217.75 1074.50,215.60 1082.50,206.90 1090.50,194.00 1095.00,201.25 1098.50,209.40 1102.50,222.50 1106.50,240.00 1113.00,270.00 1117.50,290.00 1122.00,310.00" fill="none" stroke="#00ff00" stroke-width="2" stroke-linejoin="round"/>
<g shape-rendering="geometricPrecision">
<path d="M11.4,262.2 L5.3,271.9 L11.4,268.6 Z" fill="#6c6c6c"/>
<path d="M11.7,263.1 L16.8,271.4 L11.7,268.7 Z" fill="#f4f6fa" stroke="#b4bed2" stroke-width="0.8"/>
<path d="M75.4,237.2 L69.3,246.9 L75.4,243.6 Z" fill="#6c6c6c"/>
<path d="M75.7,238.1 L80.8,246.4 L75.7,243.7 Z" fill="#f4f6fa" stroke="#b4bed2" stroke-width="0.8"/>
<path d="M123.4,214.2 L117.3,223.9 L123.4,220.6 Z" fill="#6c6c6c"/>
<path d="M123.7,215.1 L128.8,223.4 L123.7,220.7 Z" fill="#f4f6fa" stroke="#b4bed2" stroke-width="0.8"/>
<path d="M147.4,228.2 L141.3,237.9 L147.4,234.6 Z" fill="#6c6c6c"/>
<path d="M147.7,229.1 L152.8,237.4 L147.7,234.7 Z" fill="#f4f6fa" stroke="#b4bed2" stroke-width="0.8"/>
<path d="M219.4,286.2 L213.3,295.9 L219.4,292.6 Z" fill="#6c6c6c"/>
<path d="M219.7,287.1 L224.8,295.4 L219.7,292.7 Z" fill="#f4f6fa" stroke="#b4bed2" stroke-width="0.8"/>
<path d="M339.4,155.2 L333.3,164.9 L339.4,161.6 Z" fill="#6c6c6c"/>
<path d="M339.7,156.1 L344.8,164.4 L339.7,161.7 Z" fill="#f4f6fa" stroke="#b4bed2" stroke-width="0.8"/>
<path d="M363.4,166.2 L357.3,175.9 L363.4,172.6 Z" fill="#6c6c6c"/>
<path d="M363.7,167.1 L368.8,175.4 L363.7,172.7 Z" fill="#f4f6fa" stroke="#b4bed2" stroke-width="0.8"/>
<path d="M387.4,168.2 L381.3,177.9 L387.4,174.6 Z" fill="#6c6c6c"/>
<path d="M387.7,169.1 L392.8,177.4 L387.7,174.7 Z" fill="#f4f6fa" stroke="#b4bed2" stroke-width="0.8"/>
<path d="M483.4,111.2 L477.3,120.9 L483.4,117.6 Z" fill="#6c6c6c"/>
<path d="M483.7,112.1 L488.8,120.4 L483.7,117.7 Z" fill="#f4f6fa" stroke="#b4bed2" stroke-width="0.8"/>
<path d="M539.4,47.2 L533.3,56.9 L539.4,53.6 Z" fill="#6c6c6c"/>
<path d="M539.7,48.1 L544.8,56.4 L539.7,53.7 Z" fill="#f4f6fa" stroke="#b4bed2" stroke-width="0.8"/>
<path d="M619.4,219.2 L613.3,228.9 L619.4,225.6 Z" fill="#6c6c6c"/>
<path d="M619.7,220.1 L624.8,228.4 L619.7,225.7 Z" fill="#f4f6fa" stroke="#b4bed2" stroke-width="0.8"/>
<path d="M707.4,16.2 L701.3,25.9 L707.4,22.6 Z" fill="#6c6c6c"/>
<path d="M707.7,17.1 L712.8,25.4 L707.7,22.7 Z" fill="#f4f6fa" stroke="#b4bed2" stroke-width="0.8"/>
<path d="M747.4,0.2 L741.3,9.9 L747.4,6.6 Z" fill="#6c6c6c"/>
<path d="M747.7,1.1 L752.8,9.4 L747.7,6.7 Z" fill="#f4f6fa" stroke="#b4bed2" stroke-width="0.8"/>
<path d="M795.4,56.2 L789.3,65.9 L795.4,62.6 Z" fill="#6c6c6c"/>
<path d="M795.7,57.1 L800.8,65.4 L795.7,62.7 Z" fill="#f4f6fa" stroke="#b4bed2" stroke-width="0.8"/>
<path d="M843.4,54.2 L837.3,63.9 L843.4,60.6 Z" fill="#6c6c6c"/>
<path d="M843.7,55.1 L848.8,63.4 L843.7,60.7 Z" fill="#f4f6fa" stroke="#b4bed2" stroke-width="0.8"/>
<path d="M891.4,73.2 L885.3,82.9 L891.4,79.6 Z" fill="#6c6c6c"/>
<path d="M891.7,74.1 L896.8,82.4 L891.7,79.7 Z" fill="#f4f6fa" stroke="#b4bed2" stroke-width="0.8"/>
<path d="M939.4,105.2 L933.3,114.9 L939.4,111.6 Z" fill="#6c6c6c"/>
<path d="M939.7,106.1 L944.8,114.4 L939.7,111.7 Z" fill="#f4f6fa" stroke="#b4bed2" stroke-width="0.8"/>
<path d="M1067.4,111.2 L1061.3,120.9 L1067.4,117.6 Z" fill="#6c6c6c"/>
<path d="M1067.7,112.1 L1072.8,120.4 L1067.7,117.7 Z" fill="#f4f6fa" stroke="#b4bed2" stroke-width="0.8"/>
<path d="M26.8,323.6 L33.0,314.0 L26.8,316.9 Z" fill="#6c6c6c"/>
<path d="M26.5,322.7 L21.4,314.4 L26.5,317.0 Z" fill="#f4f6fa" stroke="#b4bed2" stroke-width="0.8"/>
<path d="M98.8,330.6 L105.0,321.0 L98.8,323.9 Z" fill="#6c6c6c"/>
<path d="M98.5,329.7 L93.4,321.4 L98.5,324.0 Z" fill="#f4f6fa" stroke="#b4bed2" stroke-width="0.8"/>
<path d="M154.8,351.6 L161.0,342.0 L154.8,344.9 Z" fill="#6c6c6c"/>
<path d="M154.5,350.7 L149.4,342.4 L154.5,345.0 Z" fill="#f4f6fa" stroke="#b4bed2" stroke-width="0.8"/>
<path d="M194.8,346.6 L201.0,337.0 L194.8,339.9 Z" fill="#6c6c6c"/>
<path d="M194.5,345.7 L189.4,337.4 L194.5,340.0 Z" fill="#f4f6fa" stroke="#b4bed2" stroke-width="0.8"/>
<path d="M218.8,340.6 L225.0,331.0 L218.8,333.9 Z" fill="#6c6c6c"/>
<path d="M218.5,339.7 L213.4,331.4 L218.5,334.0 Z" fill="#f4f6fa" stroke="#b4bed2" stroke-width="0.8"/>
<path d="M274.8,426.6 L281.0,417.0 L274.8,419.9 Z" fill="#6c6c6c"/>
<path d="M274.5,425.7 L269.4,417.4 L274.5,420.0 Z" fill="#f4f6fa" stroke="#b4bed2" stroke-width="0.8"/>
<path d="M354.8,269.6 L361.0,260.0 L354.8,262.9 Z" fill="#6c6c6c"/>
<path d="M354.5,268.7 L349.4,260.4 L354.5,263.0 Z" fill="#f4f6fa" stroke="#b4bed2" stroke-width="0.8"/>
<path d="M394.8,248.6 L401.0,239.0 L394.8,241.9 Z" fill="#6c6c6c"/>
<path d="M394.5,247.7 L389.4,239.4 L394.5,242.0 Z" fill="#f4f6fa" stroke="#b4bed2" stroke-width="0.8"/>
<path d="M434.8,235.6 L441.0,226.0 L434.8,228.9 Z" fill="#6c6c6c"/>
<path d="M434.5,234.7 L429.4,226.4 L434.5,229.0 Z" fill="#f4f6fa" stroke="#b4bed2" stroke-width="0.8"/>
<path d="M466.8,185.6 L473.0,176.0 L466.8,178.9 Z" fill="#6c6c6c"/>
<path d="M466.5,184.7 L461.4,176.4 L466.5,179.0 Z" fill="#f4f6fa" stroke="#b4bed2" stroke-width="0.8"/>
<path d="M498.8,239.6 L505.0,230.0 L498.8,232.9 Z" fill="#6c6c6c"/>
<path d="M498.5,238.7 L493.4,230.4 L498.5,233.0 Z" fill="#f4f6fa" stroke="#b4bed2" stroke-width="0.8"/>
<path d="M554.8,254.6 L561.0,245.0 L554.8,247.9 Z" fill="#6c6c6c"/>
<path d="M554.5,253.7 L549.4,245.4 L554.5,248.0 Z" fill="#f4f6fa" stroke="#b4bed2" stroke-width="0.8"/>
<path d="M634.8,342.6 L641.0,333.0 L634.8,335.9 Z" fill="#6c6c6c"/>
<path d="M634.5,341.7 L629.4,333.4 L634.5,336.0 Z" fill="#f4f6fa" stroke="#b4bed2" stroke-width="0.8"/>
<path d="M674.8,311.6 L681.0,302.0 L674.8,304.9 Z" fill="#6c6c6c"/>
<path d="M674.5,310.7 L669.4,302.4 L674.5,305.0 Z" fill="#f4f6fa" stroke="#b4bed2" stroke-width="0.8"/>
<path d="M722.8,121.6 L729.0,112.0 L722.8,114.9 Z" fill="#6c6c6c"/>
<path d="M722.5,120.7 L717.4,112.4 L722.5,115.0 Z" fill="#f4f6fa" stroke="#b4bed2" stroke-width="0.8"/>
<path d="M802.8,141.6 L809.0,132.0 L802.8,134.9 Z" fill="#6c6c6c"/>
<path d="M802.5,140.7 L797.4,132.4 L802.5,135.0 Z" fill="#f4f6fa" stroke="#b4bed2" stroke-width="0.8"/>
<path d="M834.8,131.6 L841.0,122.0 L834.8,124.9 Z" fill="#6c6c6c"/>
<path d="M834.5,130.7 L829.4,122.4 L834.5,125.0 Z" fill="#f4f6fa" stroke="#b4bed2" stroke-width="0.8"/>
<path d="M858.8,155.6 L865.0,146.0 L858.8,148.9 Z" fill="#6c6c6c"/>
<path d="M858.5,154.7 L853.4,146.4 L858.5,149.0 Z" fill="#f4f6fa" stroke="#b4bed2" stroke-width="0.8"/>
<path d="M906.8,232.6 L913.0,223.0 L906.8,225.9 Z" fill="#6c6c6c"/>
<path d="M906.5,231.7 L901.4,223.4 L906.5,226.0 Z" fill="#f4f6fa" stroke="#b4bed2" stroke-width="0.8"/>
<path d="M1018.8,299.6 L1025.0,290.0 L1018.8,292.9 Z" fill="#6c6c6c"/>
<path d="M1018.5,298.7 L1013.4,290.4 L1018.5,293.0 Z" fill="#f4f6fa" stroke="#b4bed2" stroke-width="0.8"/>
<path d="M1042.8,286.6 L1049.0,277.0 L1042.8,279.9 Z" fill="#6c6c6c"/>
<path d="M1042.5,285.7 L1037.4,277.4 L1042.5,280.0 Z" fill="#f4f6fa" stroke="#b4bed2" stroke-width="0.8"/>
</g>
<rect x="3" y="434" width="1224" height="1" fill="#d00000"/>
<path d="M1109.8,438.5 H1117.3 V449.8 H1121.4 L1113.5,457.1 L1105.6,449.8 H1109.8 Z" fill="none" stroke="#ff1010" stroke-width="1.15" shape-rendering="geometricPrecision"/>
</g>
<rect x="3" y="484" width="1" height="42" fill="#ff0000"/>
<rect x="8" y="490" width="4" height="36" fill="#ff0000"/>
<rect x="16" y="491" width="4" height="35" fill="#ff0000"/>
<rect x="24" y="494" width="4" height="32" fill="#ff0000"/>
<rect x="32" y="496" width="4" height="30" fill="#ff0000"/>
<rect x="40" y="498" width="4" height="28" fill="#ff0000"/>
<rect x="48" y="500" width="4" height="26" fill="#ff0000"/>
<rect x="56" y="500" width="4" height="26" fill="#ff0000"/>
<rect x="64" y="500" width="4" height="26" fill="#008000"/>
<rect x="72" y="501" width="4" height="25" fill="#ff0000"/>
<rect x="80" y="501" width="4" height="25" fill="#ff0000"/>
<rect x="88" y="503" width="4" height="23" fill="#ff0000"/>
<rect x="96" y="506" width="4" height="20" fill="#ff0000"/>
<rect x="104" y="507" width="4" height="19" fill="#ff0000"/>
<rect x="112" y="507" width="4" height="19" fill="#ff0000"/>
<rect x="120" y="508" width="4" height="18" fill="#ff0000"/>
<rect x="128" y="509" width="4" height="17" fill="#ff0000"/>
<rect x="136" y="510" width="4" height="16" fill="#ff0000"/>
<rect x="144" y="512" width="4" height="14" fill="#ff0000"/>
<rect x="152" y="516" width="4" height="10" fill="#ff0000"/>
<rect x="160" y="519" width="4" height="7" fill="#ff0000"/>
<rect x="168" y="520" width="4" height="6" fill="#ff0000"/>
<rect x="176" y="522" width="4" height="4" fill="#ff0000"/>
<rect x="184" y="525" width="4" height="1" fill="#ff0000"/>
<rect x="192" y="526" width="3" height="1" fill="#ff0000"/>
<rect x="328" y="523" width="4" height="3" fill="#008000"/>
<rect x="336" y="515" width="4" height="11" fill="#008000"/>
<rect x="344" y="509" width="4" height="17" fill="#008000"/>
<rect x="352" y="504" width="4" height="22" fill="#008000"/>
<rect x="360" y="501" width="4" height="25" fill="#008000"/>
<rect x="368" y="501" width="4" height="25" fill="#ff0000"/>
<rect x="376" y="502" width="4" height="24" fill="#ff0000"/>
<rect x="384" y="502" width="4" height="24" fill="#008000"/>
<rect x="392" y="502" width="4" height="24" fill="#ff0000"/>
<rect x="400" y="504" width="4" height="22" fill="#ff0000"/>
<rect x="408" y="505" width="4" height="21" fill="#ff0000"/>
<rect x="416" y="505" width="4" height="21" fill="#ff0000"/>
<rect x="424" y="506" width="4" height="20" fill="#ff0000"/>
<rect x="432" y="506" width="4" height="20" fill="#008000"/>
<rect x="440" y="505" width="4" height="21" fill="#008000"/>
<rect x="448" y="504" width="4" height="22" fill="#008000"/>
<rect x="456" y="502" width="4" height="24" fill="#008000"/>
<rect x="464" y="501" width="4" height="25" fill="#008000"/>
<rect x="472" y="499" width="4" height="27" fill="#008000"/>
<rect x="480" y="498" width="4" height="28" fill="#008000"/>
<rect x="488" y="500" width="4" height="26" fill="#ff0000"/>
<rect x="496" y="503" width="4" height="23" fill="#ff0000"/>
<rect x="504" y="505" width="4" height="21" fill="#ff0000"/>
<rect x="512" y="506" width="4" height="20" fill="#ff0000"/>
<rect x="520" y="506" width="4" height="20" fill="#ff0000"/>
<rect x="528" y="504" width="4" height="22" fill="#008000"/>
<rect x="536" y="501" width="4" height="25" fill="#008000"/>
<rect x="544" y="500" width="4" height="26" fill="#008000"/>
<rect x="552" y="505" width="4" height="21" fill="#ff0000"/>
<rect x="560" y="510" width="4" height="16" fill="#ff0000"/>
<rect x="568" y="517" width="4" height="9" fill="#ff0000"/>
<rect x="576" y="526" width="3" height="1" fill="#ff0000"/>
<rect x="688" y="526" width="3" height="1" fill="#008000"/>
<rect x="696" y="518" width="4" height="8" fill="#008000"/>
<rect x="704" y="507" width="4" height="19" fill="#008000"/>
<rect x="712" y="500" width="4" height="26" fill="#008000"/>
<rect x="720" y="497" width="4" height="29" fill="#008000"/>
<rect x="728" y="495" width="4" height="31" fill="#008000"/>
<rect x="736" y="494" width="4" height="32" fill="#008000"/>
<rect x="744" y="494" width="4" height="32" fill="#ff0000"/>
<rect x="752" y="492" width="4" height="34" fill="#008000"/>
<rect x="760" y="493" width="4" height="33" fill="#ff0000"/>
<rect x="768" y="495" width="4" height="31" fill="#ff0000"/>
<rect x="776" y="498" width="4" height="28" fill="#ff0000"/>
<rect x="784" y="502" width="4" height="24" fill="#ff0000"/>
<rect x="792" y="506" width="4" height="20" fill="#ff0000"/>
<rect x="800" y="508" width="4" height="18" fill="#ff0000"/>
<rect x="808" y="508" width="4" height="18" fill="#ff0000"/>
<rect x="816" y="509" width="4" height="17" fill="#ff0000"/>
<rect x="824" y="510" width="4" height="16" fill="#ff0000"/>
<rect x="832" y="511" width="4" height="15" fill="#ff0000"/>
<rect x="840" y="510" width="4" height="16" fill="#008000"/>
<rect x="848" y="510" width="4" height="16" fill="#ff0000"/>
<rect x="856" y="512" width="4" height="14" fill="#ff0000"/>
<rect x="864" y="513" width="4" height="13" fill="#ff0000"/>
<rect x="872" y="515" width="4" height="11" fill="#ff0000"/>
<rect x="880" y="518" width="4" height="8" fill="#ff0000"/>
<rect x="888" y="521" width="4" height="5" fill="#ff0000"/>
<rect x="896" y="524" width="4" height="2" fill="#ff0000"/>
<rect x="200" y="526" width="4" height="4" fill="#ff0000"/>
<rect x="208" y="526" width="4" height="6" fill="#ff0000"/>
<rect x="216" y="526" width="4" height="8" fill="#ff0000"/>
<rect x="224" y="526" width="4" height="8" fill="#ff0000"/>
<rect x="232" y="526" width="4" height="7" fill="#008000"/>
<rect x="240" y="526" width="4" height="8" fill="#ff0000"/>
<rect x="248" y="526" width="4" height="8" fill="#ff0000"/>
<rect x="256" y="526" width="4" height="10" fill="#ff0000"/>
<rect x="264" y="526" width="4" height="13" fill="#ff0000"/>
<rect x="272" y="526" width="4" height="17" fill="#ff0000"/>
<rect x="280" y="526" width="4" height="18" fill="#ff0000"/>
<rect x="288" y="526" width="4" height="19" fill="#ff0000"/>
<rect x="296" y="526" width="4" height="18" fill="#008000"/>
<rect x="304" y="526" width="4" height="15" fill="#008000"/>
<rect x="312" y="526" width="4" height="11" fill="#008000"/>
<rect x="320" y="526" width="4" height="5" fill="#008000"/>
<rect x="584" y="526" width="4" height="5" fill="#ff0000"/>
<rect x="592" y="526" width="4" height="8" fill="#ff0000"/>
<rect x="600" y="526" width="4" height="12" fill="#ff0000"/>
<rect x="608" y="526" width="4" height="15" fill="#ff0000"/>
<rect x="616" y="526" width="4" height="18" fill="#ff0000"/>
<rect x="624" y="526" width="4" height="21" fill="#ff0000"/>
<rect x="632" y="526" width="4" height="23" fill="#ff0000"/>
<rect x="640" y="526" width="4" height="25" fill="#ff0000"/>
<rect x="648" y="526" width="4" height="26" fill="#ff0000"/>
<rect x="656" y="526" width="4" height="26" fill="#008000"/>
<rect x="664" y="526" width="4" height="24" fill="#008000"/>
<rect x="672" y="526" width="4" height="20" fill="#008000"/>
<rect x="680" y="526" width="4" height="11" fill="#008000"/>
<rect x="904" y="526" width="4" height="3" fill="#ff0000"/>
<rect x="912" y="526" width="4" height="5" fill="#ff0000"/>
<rect x="920" y="526" width="4" height="9" fill="#ff0000"/>
<rect x="928" y="526" width="4" height="12" fill="#ff0000"/>
<rect x="936" y="526" width="4" height="12" fill="#ff0000"/>
<rect x="944" y="526" width="4" height="12" fill="#008000"/>
<rect x="952" y="526" width="4" height="13" fill="#ff0000"/>
<rect x="960" y="526" width="4" height="13" fill="#008000"/>
<rect x="968" y="526" width="4" height="14" fill="#ff0000"/>
<rect x="976" y="526" width="4" height="16" fill="#ff0000"/>
<rect x="984" y="526" width="4" height="19" fill="#ff0000"/>
<rect x="992" y="526" width="4" height="21" fill="#ff0000"/>
<rect x="1000" y="526" width="4" height="22" fill="#ff0000"/>
<rect x="1008" y="526" width="4" height="24" fill="#ff0000"/>
<rect x="1016" y="526" width="4" height="26" fill="#ff0000"/>
<rect x="1024" y="526" width="4" height="25" fill="#008000"/>
<rect x="1032" y="526" width="4" height="25" fill="#008000"/>
<rect x="1040" y="526" width="4" height="25" fill="#008000"/>
<rect x="1048" y="526" width="4" height="22" fill="#008000"/>
<rect x="1056" y="526" width="4" height="16" fill="#008000"/>
<rect x="1064" y="526" width="4" height="11" fill="#008000"/>
<rect x="1072" y="526" width="4" height="13" fill="#ff0000"/>
<rect x="1080" y="526" width="4" height="18" fill="#ff0000"/>
<rect x="1088" y="526" width="4" height="28" fill="#ff0000"/>
<rect x="1096" y="526" width="4" height="40" fill="#ff0000"/>
<rect x="304" y="624" width="4" height="5" fill="#008000"/>
<rect x="312" y="617" width="4" height="12" fill="#008000"/>
<rect x="320" y="610" width="4" height="19" fill="#008000"/>
<rect x="328" y="603" width="4" height="26" fill="#008000"/>
<rect x="336" y="597" width="4" height="32" fill="#008000"/>
<rect x="344" y="598" width="4" height="31" fill="#ff0000"/>
<rect x="352" y="601" width="4" height="28" fill="#ff0000"/>
<rect x="360" y="607" width="4" height="22" fill="#ff0000"/>
<rect x="368" y="617" width="4" height="12" fill="#ff0000"/>
<rect x="376" y="626" width="4" height="3" fill="#ff0000"/>
<rect x="384" y="628" width="4" height="1" fill="#ff0000"/>
<rect x="440" y="628" width="4" height="1" fill="#008000"/>
<rect x="448" y="625" width="4" height="4" fill="#008000"/>
<rect x="456" y="624" width="4" height="5" fill="#008000"/>
<rect x="464" y="623" width="4" height="6" fill="#008000"/>
<rect x="472" y="621" width="4" height="8" fill="#008000"/>
<rect x="480" y="622" width="4" height="7" fill="#ff0000"/>
<rect x="488" y="628" width="4" height="1" fill="#ff0000"/>
<rect x="528" y="627" width="4" height="2" fill="#008000"/>
<rect x="536" y="620" width="4" height="9" fill="#008000"/>
<rect x="544" y="621" width="4" height="8" fill="#ff0000"/>
<rect x="664" y="628" width="4" height="1" fill="#008000"/>
<rect x="672" y="619" width="4" height="10" fill="#008000"/>
<rect x="680" y="606" width="4" height="23" fill="#008000"/>
<rect x="688" y="596" width="4" height="33" fill="#008000"/>
<rect x="696" y="590" width="4" height="39" fill="#008000"/>
<rect x="704" y="586" width="4" height="43" fill="#008000"/>
<rect x="712" y="590" width="4" height="39" fill="#ff0000"/>
<rect x="720" y="601" width="4" height="28" fill="#ff0000"/>
<rect x="728" y="610" width="4" height="19" fill="#ff0000"/>
<rect x="736" y="619" width="4" height="10" fill="#ff0000"/>
<rect x="744" y="625" width="4" height="4" fill="#ff0000"/>
<rect x="752" y="624" width="4" height="5" fill="#008000"/>
<rect x="760" y="627" width="4" height="2" fill="#ff0000"/>
<rect x="1040" y="628" width="4" height="1" fill="#008000"/>
<rect x="1048" y="623" width="4" height="6" fill="#008000"/>
<rect x="1056" y="614" width="4" height="15" fill="#008000"/>
<rect x="1064" y="610" width="4" height="19" fill="#008000"/>
<rect x="1072" y="619" width="4" height="10" fill="#ff0000"/>
<rect x="3" y="629" width="1" height="7" fill="#ff0000"/>
<rect x="8" y="629" width="4" height="13" fill="#ff0000"/>
<rect x="16" y="629" width="4" height="14" fill="#ff0000"/>
<rect x="24" y="629" width="4" height="15" fill="#ff0000"/>
<rect x="32" y="629" width="4" height="12" fill="#008000"/>
<rect x="40" y="629" width="4" height="10" fill="#008000"/>
<rect x="48" y="629" width="4" height="8" fill="#008000"/>
<rect x="56" y="629" width="4" height="5" fill="#008000"/>
<rect x="64" y="629" width="4" height="3" fill="#008000"/>
<rect x="72" y="629" width="4" height="1" fill="#008000"/>
<rect x="88" y="629" width="4" height="4" fill="#ff0000"/>
<rect x="96" y="629" width="4" height="7" fill="#ff0000"/>
<rect x="104" y="629" width="4" height="7" fill="#008000"/>
<rect x="112" y="629" width="4" height="5" fill="#008000"/>
<rect x="120" y="629" width="4" height="3" fill="#008000"/>
<rect x="128" y="629" width="4" height="3" fill="#008000"/>
<rect x="136" y="629" width="4" height="3" fill="#ff0000"/>
<rect x="144" y="629" width="4" height="5" fill="#ff0000"/>
<rect x="152" y="629" width="4" height="12" fill="#ff0000"/>
<rect x="160" y="629" width="4" height="12" fill="#ff0000"/>
<rect x="168" y="629" width="4" height="10" fill="#008000"/>
<rect x="176" y="629" width="4" height="8" fill="#008000"/>
<rect x="184" y="629" width="4" height="10" fill="#ff0000"/>
<rect x="192" y="629" width="4" height="9" fill="#008000"/>
<rect x="200" y="629" width="4" height="10" fill="#ff0000"/>
<rect x="208" y="629" width="4" height="10" fill="#008000"/>
<rect x="216" y="629" width="4" height="9" fill="#008000"/>
<rect x="224" y="629" width="4" height="5" fill="#008000"/>
<rect x="232" y="629" width="4" height="1" fill="#008000"/>
<rect x="240" y="629" width="4" height="1" fill="#008000"/>
<rect x="256" y="629" width="4" height="3" fill="#ff0000"/>
<rect x="264" y="629" width="4" height="8" fill="#ff0000"/>
<rect x="272" y="629" width="4" height="12" fill="#ff0000"/>
<rect x="280" y="629" width="4" height="11" fill="#008000"/>
<rect x="288" y="629" width="4" height="8" fill="#008000"/>
<rect x="296" y="629" width="4" height="2" fill="#008000"/>
<rect x="400" y="629" width="4" height="4" fill="#ff0000"/>
<rect x="408" y="629" width="4" height="4" fill="#008000"/>
<rect x="416" y="629" width="4" height="3" fill="#008000"/>
<rect x="424" y="629" width="4" height="3" fill="#008000"/>
<rect x="432" y="629" width="4" height="1" fill="#008000"/>
<rect x="496" y="629" width="4" height="5" fill="#ff0000"/>
<rect x="504" y="629" width="4" height="8" fill="#ff0000"/>
<rect x="512" y="629" width="4" height="8" fill="#ff0000"/>
<rect x="520" y="629" width="4" height="5" fill="#008000"/>
<rect x="552" y="629" width="4" height="4" fill="#ff0000"/>
<rect x="560" y="629" width="4" height="13" fill="#ff0000"/>
<rect x="568" y="629" width="4" height="23" fill="#ff0000"/>
<rect x="576" y="629" width="4" height="30" fill="#ff0000"/>
<rect x="584" y="629" width="4" height="29" fill="#008000"/>
<rect x="592" y="629" width="4" height="21" fill="#008000"/>
<rect x="600" y="629" width="4" height="19" fill="#008000"/>
<rect x="608" y="629" width="4" height="15" fill="#008000"/>
<rect x="616" y="629" width="4" height="13" fill="#008000"/>
<rect x="624" y="629" width="4" height="13" fill="#ff0000"/>
<rect x="632" y="629" width="4" height="11" fill="#008000"/>
<rect x="640" y="629" width="4" height="9" fill="#008000"/>
<rect x="648" y="629" width="4" height="6" fill="#008000"/>
<rect x="656" y="629" width="4" height="3" fill="#008000"/>
<rect x="768" y="629" width="4" height="3" fill="#ff0000"/>
<rect x="776" y="629" width="4" height="7" fill="#ff0000"/>
<rect x="784" y="629" width="4" height="12" fill="#ff0000"/>
<rect x="792" y="629" width="4" height="14" fill="#ff0000"/>
<rect x="800" y="629" width="4" height="13" fill="#008000"/>
<rect x="808" y="629" width="4" height="8" fill="#008000"/>
<rect x="816" y="629" width="4" height="5" fill="#008000"/>
<rect x="824" y="629" width="4" height="4" fill="#008000"/>
<rect x="832" y="629" width="4" height="4" fill="#008000"/>
<rect x="840" y="629" width="4" height="1" fill="#008000"/>
<rect x="856" y="629" width="4" height="2" fill="#ff0000"/>
<rect x="864" y="629" width="4" height="3" fill="#ff0000"/>
<rect x="872" y="629" width="4" height="6" fill="#ff0000"/>
<rect x="880" y="629" width="4" height="10" fill="#ff0000"/>
<rect x="888" y="629" width="4" height="10" fill="#ff0000"/>
<rect x="896" y="629" width="4" height="12" fill="#ff0000"/>
<rect x="904" y="629" width="4" height="15" fill="#ff0000"/>
<rect x="912" y="629" width="4" height="14" fill="#008000"/>
<rect x="920" y="629" width="4" height="15" fill="#ff0000"/>
<rect x="928" y="629" width="4" height="14" fill="#008000"/>
<rect x="936" y="629" width="4" height="8" fill="#008000"/>
<rect x="944" y="629" width="4" height="3" fill="#008000"/>
<rect x="952" y="629" width="4" height="3" fill="#008000"/>
<rect x="960" y="629" width="4" height="1" fill="#008000"/>
<rect x="968" y="629" width="4" height="3" fill="#ff0000"/>
<rect x="976" y="629" width="4" height="5" fill="#ff0000"/>
<rect x="984" y="629" width="4" height="8" fill="#ff0000"/>
<rect x="992" y="629" width="4" height="8" fill="#ff0000"/>
<rect x="1000" y="629" width="4" height="8" fill="#008000"/>
<rect x="1008" y="629" width="4" height="7" fill="#008000"/>
<rect x="1016" y="629" width="4" height="8" fill="#ff0000"/>
<rect x="1024" y="629" width="4" height="3" fill="#008000"/>
<rect x="1032" y="629" width="4" height="1" fill="#008000"/>
<rect x="1080" y="629" width="4" height="4" fill="#ff0000"/>
<rect x="1088" y="629" width="4" height="23" fill="#ff0000"/>
<rect x="1096" y="629" width="4" height="39" fill="#ff0000"/>
<rect x="3" y="690" width="1" height="42" fill="#008000"/>
<rect x="3" y="732" width="1" height="34" fill="#ff0000"/>
<rect x="8" y="694" width="4" height="38" fill="#008000"/>
<rect x="8" y="732" width="4" height="31" fill="#ff0000"/>
<rect x="16" y="694" width="4" height="38" fill="#ff0000"/>
<rect x="16" y="732" width="4" height="25" fill="#ff0000"/>
<rect x="24" y="694" width="4" height="38" fill="#ff0000"/>
<rect x="24" y="732" width="4" height="20" fill="#ff0000"/>
<rect x="32" y="694" width="4" height="38" fill="#ff0000"/>
<rect x="32" y="732" width="4" height="19" fill="#ff0000"/>
<rect x="40" y="696" width="4" height="36" fill="#ff0000"/>
<rect x="40" y="732" width="4" height="17" fill="#ff0000"/>
<rect x="48" y="699" width="4" height="33" fill="#ff0000"/>
<rect x="48" y="732" width="4" height="15" fill="#ff0000"/>
<rect x="56" y="700" width="4" height="32" fill="#ff0000"/>
<rect x="56" y="732" width="4" height="12" fill="#ff0000"/>
<rect x="64" y="702" width="4" height="30" fill="#ff0000"/>
<rect x="64" y="732" width="4" height="12" fill="#ff0000"/>
<rect x="72" y="704" width="4" height="28" fill="#ff0000"/>
<rect x="72" y="732" width="4" height="12" fill="#ff0000"/>
<rect x="80" y="705" width="4" height="27" fill="#ff0000"/>
<rect x="80" y="732" width="4" height="11" fill="#ff0000"/>
<rect x="88" y="706" width="4" height="26" fill="#ff0000"/>
<rect x="88" y="732" width="4" height="11" fill="#ff0000"/>
<rect x="96" y="707" width="4" height="25" fill="#ff0000"/>
<rect x="96" y="732" width="4" height="10" fill="#ff0000"/>
<rect x="104" y="707" width="4" height="25" fill="#ff0000"/>
<rect x="104" y="732" width="4" height="8" fill="#ff0000"/>
<rect x="112" y="708" width="4" height="24" fill="#ff0000"/>
<rect x="112" y="732" width="4" height="5" fill="#ff0000"/>
<rect x="120" y="710" width="4" height="22" fill="#ff0000"/>
<rect x="120" y="732" width="4" height="3" fill="#ff0000"/>
<rect x="128" y="712" width="4" height="20" fill="#ff0000"/>
<rect x="128" y="732" width="4" height="6" fill="#008000"/>
<rect x="136" y="715" width="4" height="17" fill="#ff0000"/>
<rect x="136" y="732" width="4" height="9" fill="#008000"/>
<rect x="144" y="715" width="4" height="17" fill="#008000"/>
<rect x="144" y="732" width="4" height="8" fill="#ff0000"/>
<rect x="152" y="713" width="4" height="19" fill="#008000"/>
<rect x="152" y="732" width="4" height="5" fill="#ff0000"/>
<rect x="160" y="713" width="4" height="19" fill="#008000"/>
<rect x="160" y="732" width="4" height="3" fill="#ff0000"/>
<rect x="168" y="715" width="4" height="17" fill="#ff0000"/>
<rect x="168" y="732" width="4" height="4" fill="#008000"/>
<rect x="176" y="718" width="4" height="14" fill="#ff0000"/>
<rect x="176" y="732" width="4" height="1" fill="#ff0000"/>
<rect x="184" y="719" width="4" height="13" fill="#ff0000"/>
<rect x="184" y="732" width="4" height="1" fill="#ff0000"/>
<rect x="192" y="721" width="4" height="11" fill="#ff0000"/>
<rect x="192" y="732" width="4" height="2" fill="#008000"/>
<rect x="200" y="721" width="4" height="11" fill="#ff0000"/>
<rect x="200" y="732" width="4" height="1" fill="#ff0000"/>
<rect x="208" y="723" width="4" height="9" fill="#ff0000"/>
<rect x="208" y="732" width="4" height="1" fill="#ff0000"/>
<rect x="216" y="722" width="4" height="10" fill="#008000"/>
<rect x="216" y="732" width="4" height="3" fill="#008000"/>
<rect x="224" y="724" width="4" height="8" fill="#ff0000"/>
<rect x="224" y="732" width="4" height="4" fill="#008000"/>
<rect x="232" y="727" width="4" height="5" fill="#ff0000"/>
<rect x="232" y="732" width="4" height="4" fill="#ff0000"/>
<rect x="240" y="729" width="4" height="3" fill="#ff0000"/>
<rect x="240" y="732" width="4" height="4" fill="#ff0000"/>
<rect x="248" y="730" width="4" height="2" fill="#ff0000"/>
<rect x="248" y="732" width="4" height="3" fill="#ff0000"/>
<rect x="256" y="730" width="4" height="2" fill="#ff0000"/>
<rect x="256" y="732" width="4" height="3" fill="#008000"/>
<rect x="264" y="730" width="4" height="2" fill="#ff0000"/>
<rect x="264" y="732" width="4" height="5" fill="#008000"/>
<rect x="272" y="731" width="4" height="1" fill="#ff0000"/>
<rect x="272" y="732" width="4" height="6" fill="#008000"/>
<rect x="280" y="731" width="4" height="1" fill="#ff0000"/>
<rect x="280" y="732" width="4" height="8" fill="#008000"/>
<rect x="288" y="730" width="4" height="2" fill="#008000"/>
<rect x="288" y="732" width="4" height="12" fill="#008000"/>
<rect x="296" y="728" width="4" height="4" fill="#008000"/>
<rect x="296" y="732" width="4" height="14" fill="#008000"/>
<rect x="304" y="725" width="4" height="7" fill="#008000"/>
<rect x="304" y="732" width="4" height="12" fill="#ff0000"/>
<rect x="312" y="722" width="4" height="10" fill="#008000"/>
<rect x="312" y="732" width="4" height="10" fill="#ff0000"/>
<rect x="320" y="721" width="4" height="11" fill="#008000"/>
<rect x="320" y="732" width="4" height="6" fill="#ff0000"/>
<rect x="328" y="723" width="4" height="9" fill="#ff0000"/>
<rect x="328" y="732" width="4" height="4" fill="#ff0000"/>
<rect x="336" y="725" width="4" height="7" fill="#ff0000"/>
<rect x="336" y="732" width="4" height="1" fill="#ff0000"/>
<rect x="344" y="727" width="4" height="5" fill="#ff0000"/>
<rect x="344" y="732" width="4" height="5" fill="#008000"/>
<rect x="352" y="729" width="4" height="3" fill="#ff0000"/>
<rect x="352" y="732" width="4" height="14" fill="#008000"/>
<rect x="360" y="730" width="4" height="2" fill="#ff0000"/>
<rect x="360" y="732" width="4" height="20" fill="#008000"/>
<rect x="368" y="724" width="4" height="8" fill="#008000"/>
<rect x="368" y="732" width="4" height="20" fill="#ff0000"/>
<rect x="376" y="718" width="4" height="14" fill="#008000"/>
<rect x="376" y="732" width="4" height="17" fill="#ff0000"/>
<rect x="384" y="715" width="4" height="17" fill="#008000"/>
<rect x="384" y="732" width="4" height="18" fill="#008000"/>
<rect x="392" y="715" width="4" height="17" fill="#ff0000"/>
<rect x="392" y="732" width="4" height="19" fill="#008000"/>
<rect x="400" y="715" width="4" height="17" fill="#008000"/>
<rect x="400" y="732" width="4" height="17" fill="#ff0000"/>
<rect x="408" y="714" width="4" height="18" fill="#008000"/>
<rect x="408" y="732" width="4" height="15" fill="#ff0000"/>
<rect x="416" y="714" width="4" height="18" fill="#008000"/>
<rect x="416" y="732" width="4" height="12" fill="#ff0000"/>
<rect x="424" y="715" width="4" height="17" fill="#ff0000"/>
<rect x="424" y="732" width="4" height="10" fill="#ff0000"/>
<rect x="432" y="716" width="4" height="16" fill="#ff0000"/>
<rect x="432" y="732" width="4" height="11" fill="#008000"/>
<rect x="440" y="717" width="4" height="15" fill="#ff0000"/>
<rect x="440" y="732" width="4" height="11" fill="#ff0000"/>
<rect x="448" y="717" width="4" height="15" fill="#ff0000"/>
<rect x="448" y="732" width="4" height="10" fill="#ff0000"/>
<rect x="456" y="717" width="4" height="15" fill="#008000"/>
<rect x="456" y="732" width="4" height="8" fill="#ff0000"/>
<rect x="464" y="717" width="4" height="15" fill="#ff0000"/>
<rect x="464" y="732" width="4" height="9" fill="#008000"/>
<rect x="472" y="718" width="4" height="14" fill="#ff0000"/>
<rect x="472" y="732" width="4" height="12" fill="#008000"/>
<rect x="480" y="718" width="4" height="14" fill="#ff0000"/>
<rect x="480" y="732" width="4" height="14" fill="#008000"/>
<rect x="488" y="716" width="4" height="16" fill="#008000"/>
<rect x="488" y="732" width="4" height="13" fill="#ff0000"/>
<rect x="496" y="715" width="4" height="17" fill="#008000"/>
<rect x="496" y="732" width="4" height="13" fill="#008000"/>
<rect x="504" y="714" width="4" height="18" fill="#008000"/>
<rect x="504" y="732" width="4" height="13" fill="#ff0000"/>
<rect x="512" y="714" width="4" height="18" fill="#008000"/>
<rect x="512" y="732" width="4" height="10" fill="#ff0000"/>
<rect x="520" y="714" width="4" height="18" fill="#008000"/>
<rect x="520" y="732" width="4" height="5" fill="#ff0000"/>
<rect x="528" y="715" width="4" height="17" fill="#ff0000"/>
<rect x="528" y="732" width="4" height="5" fill="#ff0000"/>
<rect x="536" y="718" width="4" height="14" fill="#ff0000"/>
<rect x="536" y="732" width="4" height="8" fill="#008000"/>
<rect x="544" y="720" width="4" height="12" fill="#ff0000"/>
<rect x="544" y="732" width="4" height="11" fill="#008000"/>
<rect x="552" y="719" width="4" height="13" fill="#008000"/>
<rect x="552" y="732" width="4" height="15" fill="#008000"/>
<rect x="560" y="716" width="4" height="16" fill="#008000"/>
<rect x="560" y="732" width="4" height="17" fill="#008000"/>
<rect x="568" y="713" width="4" height="19" fill="#008000"/>
<rect x="568" y="732" width="4" height="13" fill="#ff0000"/>
<rect x="576" y="711" width="4" height="21" fill="#008000"/>
<rect x="576" y="732" width="4" height="2" fill="#ff0000"/>
<rect x="584" y="712" width="4" height="20" fill="#ff0000"/>
<rect x="584" y="732" width="4" height="2" fill="#ff0000"/>
<rect x="592" y="719" width="4" height="13" fill="#ff0000"/>
<rect x="592" y="732" width="4" height="3" fill="#008000"/>
<rect x="600" y="723" width="4" height="9" fill="#ff0000"/>
<rect x="600" y="732" width="4" height="6" fill="#008000"/>
<rect x="608" y="728" width="4" height="4" fill="#ff0000"/>
<rect x="608" y="732" width="4" height="7" fill="#008000"/>
<rect x="616" y="729" width="4" height="3" fill="#ff0000"/>
<rect x="616" y="732" width="4" height="10" fill="#008000"/>
<rect x="624" y="731" width="4" height="1" fill="#ff0000"/>
<rect x="624" y="732" width="4" height="14" fill="#008000"/>
<rect x="632" y="729" width="4" height="3" fill="#008000"/>
<rect x="632" y="732" width="4" height="15" fill="#008000"/>
<rect x="640" y="726" width="4" height="6" fill="#008000"/>
<rect x="640" y="732" width="4" height="14" fill="#ff0000"/>
<rect x="648" y="723" width="4" height="9" fill="#008000"/>
<rect x="648" y="732" width="4" height="15" fill="#008000"/>
<rect x="656" y="722" width="4" height="10" fill="#008000"/>
<rect x="656" y="732" width="4" height="18" fill="#008000"/>
<rect x="664" y="721" width="4" height="11" fill="#008000"/>
<rect x="664" y="732" width="4" height="19" fill="#008000"/>
<rect x="672" y="719" width="4" height="13" fill="#008000"/>
<rect x="672" y="732" width="4" height="17" fill="#ff0000"/>
<rect x="680" y="717" width="4" height="15" fill="#008000"/>
<rect x="680" y="732" width="4" height="13" fill="#ff0000"/>
<rect x="688" y="716" width="4" height="16" fill="#008000"/>
<rect x="688" y="732" width="4" height="9" fill="#ff0000"/>
<rect x="696" y="718" width="4" height="14" fill="#ff0000"/>
<rect x="696" y="732" width="4" height="5" fill="#ff0000"/>
<rect x="704" y="720" width="4" height="12" fill="#ff0000"/>
<rect x="704" y="732" width="4" height="7" fill="#008000"/>
<rect x="712" y="724" width="4" height="8" fill="#ff0000"/>
<rect x="712" y="732" width="4" height="16" fill="#008000"/>
<rect x="720" y="731" width="4" height="1" fill="#ff0000"/>
<rect x="720" y="732" width="4" height="21" fill="#008000"/>
<rect x="728" y="725" width="4" height="7" fill="#008000"/>
<rect x="728" y="732" width="4" height="26" fill="#008000"/>
<rect x="736" y="718" width="4" height="14" fill="#008000"/>
<rect x="736" y="732" width="4" height="26" fill="#ff0000"/>
<rect x="744" y="713" width="4" height="19" fill="#008000"/>
<rect x="744" y="732" width="4" height="23" fill="#ff0000"/>
<rect x="752" y="711" width="4" height="21" fill="#008000"/>
<rect x="752" y="732" width="4" height="23" fill="#008000"/>
<rect x="760" y="710" width="4" height="22" fill="#008000"/>
<rect x="760" y="732" width="4" height="23" fill="#008000"/>
<rect x="768" y="710" width="4" height="22" fill="#ff0000"/>
<rect x="768" y="732" width="4" height="24" fill="#008000"/>
<rect x="776" y="709" width="4" height="23" fill="#008000"/>
<rect x="776" y="732" width="4" height="25" fill="#008000"/>
<rect x="784" y="707" width="4" height="25" fill="#008000"/>
<rect x="784" y="732" width="4" height="20" fill="#ff0000"/>
<rect x="792" y="706" width="4" height="26" fill="#008000"/>
<rect x="792" y="732" width="4" height="14" fill="#ff0000"/>
<rect x="800" y="708" width="4" height="24" fill="#ff0000"/>
<rect x="800" y="732" width="4" height="10" fill="#ff0000"/>
<rect x="808" y="711" width="4" height="21" fill="#ff0000"/>
<rect x="808" y="732" width="4" height="8" fill="#ff0000"/>
<rect x="816" y="715" width="4" height="17" fill="#ff0000"/>
<rect x="816" y="732" width="4" height="7" fill="#ff0000"/>
<rect x="824" y="717" width="4" height="15" fill="#ff0000"/>
<rect x="824" y="732" width="4" height="4" fill="#ff0000"/>
<rect x="832" y="718" width="4" height="14" fill="#ff0000"/>
<rect x="832" y="732" width="4" height="3" fill="#ff0000"/>
<rect x="840" y="720" width="4" height="12" fill="#ff0000"/>
<rect x="840" y="732" width="4" height="3" fill="#008000"/>
<rect x="848" y="721" width="4" height="11" fill="#ff0000"/>
<rect x="848" y="732" width="4" height="2" fill="#ff0000"/>
<rect x="856" y="722" width="4" height="10" fill="#ff0000"/>
<rect x="856" y="732" width="4" height="2" fill="#ff0000"/>
<rect x="864" y="722" width="4" height="10" fill="#ff0000"/>
<rect x="864" y="732" width="4" height="4" fill="#008000"/>
<rect x="872" y="723" width="4" height="9" fill="#ff0000"/>
<rect x="872" y="732" width="4" height="4" fill="#008000"/>
<rect x="880" y="722" width="4" height="10" fill="#008000"/>
<rect x="880" y="732" width="4" height="1" fill="#ff0000"/>
<rect x="888" y="722" width="4" height="10" fill="#008000"/>
<rect x="888" y="732" width="4" height="1" fill="#ff0000"/>
<rect x="896" y="724" width="4" height="8" fill="#ff0000"/>
<rect x="896" y="732" width="4" height="1" fill="#008000"/>
<rect x="904" y="725" width="4" height="7" fill="#ff0000"/>
<rect x="904" y="732" width="4" height="1" fill="#008000"/>
<rect x="912" y="727" width="4" height="5" fill="#ff0000"/>
<rect x="912" y="732" width="4" height="1" fill="#ff0000"/>
<rect x="920" y="728" width="4" height="4" fill="#ff0000"/>
<rect x="920" y="732" width="4" height="4" fill="#008000"/>
<rect x="928" y="728" width="4" height="4" fill="#ff0000"/>
<rect x="928" y="732" width="4" height="8" fill="#008000"/>
<rect x="936" y="731" width="4" height="1" fill="#ff0000"/>
<rect x="936" y="732" width="4" height="7" fill="#ff0000"/>
<rect x="944" y="730" width="4" height="2" fill="#008000"/>
<rect x="944" y="732" width="4" height="7" fill="#008000"/>
<rect x="952" y="729" width="4" height="3" fill="#008000"/>
<rect x="952" y="732" width="4" height="7" fill="#008000"/>
<rect x="960" y="728" width="4" height="4" fill="#008000"/>
<rect x="960" y="732" width="4" height="4" fill="#ff0000"/>
<rect x="968" y="729" width="4" height="3" fill="#ff0000"/>
<rect x="968" y="732" width="4" height="4" fill="#008000"/>
<rect x="976" y="729" width="4" height="3" fill="#008000"/>
<rect x="976" y="732" width="4" height="6" fill="#008000"/>
<rect x="984" y="729" width="4" height="3" fill="#ff0000"/>
<rect x="984" y="732" width="4" height="7" fill="#008000"/>
<rect x="992" y="728" width="4" height="4" fill="#008000"/>
<rect x="992" y="732" width="4" height="8" fill="#008000"/>
<rect x="1000" y="726" width="4" height="6" fill="#008000"/>
<rect x="1000" y="732" width="4" height="9" fill="#008000"/>
<rect x="1008" y="725" width="4" height="7" fill="#008000"/>
<rect x="1008" y="732" width="4" height="12" fill="#008000"/>
<rect x="1016" y="724" width="4" height="8" fill="#008000"/>
<rect x="1016" y="732" width="4" height="13" fill="#008000"/>
<rect x="1024" y="721" width="4" height="11" fill="#008000"/>
<rect x="1024" y="732" width="4" height="13" fill="#ff0000"/>
<rect x="1032" y="720" width="4" height="12" fill="#008000"/>
<rect x="1032" y="732" width="4" height="14" fill="#008000"/>
<rect x="1040" y="719" width="4" height="13" fill="#008000"/>
<rect x="1040" y="732" width="4" height="17" fill="#008000"/>
<rect x="1048" y="718" width="4" height="14" fill="#008000"/>
<rect x="1048" y="732" width="4" height="14" fill="#ff0000"/>
<rect x="1056" y="715" width="4" height="17" fill="#008000"/>
<rect x="1056" y="732" width="4" height="11" fill="#ff0000"/>
<rect x="1064" y="716" width="4" height="16" fill="#ff0000"/>
<rect x="1064" y="732" width="4" height="11" fill="#ff0000"/>
<rect x="1072" y="716" width="4" height="16" fill="#ff0000"/>
<rect x="1072" y="732" width="4" height="8" fill="#ff0000"/>
<rect x="1080" y="718" width="4" height="14" fill="#ff0000"/>
<rect x="1080" y="732" width="4" height="2" fill="#ff0000"/>
<rect x="1088" y="719" width="4" height="13" fill="#ff0000"/>
<rect x="1088" y="732" width="4" height="3" fill="#008000"/>
<rect x="1096" y="723" width="4" height="9" fill="#ff0000"/>
<rect x="1096" y="732" width="4" height="5" fill="#008000"/>
<rect x="1104" y="728" width="4" height="4" fill="#ff0000"/>
<rect x="1104" y="732" width="4" height="22" fill="#008000"/>
<rect x="1112" y="724" width="4" height="8" fill="#008000"/>
<rect x="1112" y="732" width="4" height="33" fill="#008000"/>
<rect x="1120" y="714" width="4" height="18" fill="#008000"/>
<rect x="1120" y="732" width="4" height="38" fill="#008000"/>
<rect x="1128" y="702" width="4" height="30" fill="#008000"/>
<rect x="1136" y="695" width="4" height="37" fill="#008000"/>
<rect x="3" y="526" width="1224" height="1" fill="url(#hd)"/>
<rect x="3" y="629" width="1224" height="1" fill="url(#hd)"/>
<rect x="3" y="732" width="1224" height="1" fill="url(#hd)"/>
<rect x="2" y="2" width="1226" height="1" fill="#000"/>
<rect x="2" y="473" width="1226" height="1" fill="#000"/>
<rect x="2" y="2" width="1" height="472" fill="#000"/>
<rect x="1227" y="2" width="1" height="472" fill="#000"/>
<rect x="2" y="475" width="1226" height="1" fill="#000"/>
<rect x="2" y="575" width="1226" height="1" fill="#000"/>
<rect x="2" y="475" width="1" height="101" fill="#000"/>
<rect x="1227" y="475" width="1" height="101" fill="#000"/>
<rect x="2" y="577" width="1226" height="1" fill="#000"/>
<rect x="2" y="677" width="1226" height="1" fill="#000"/>
<rect x="2" y="577" width="1" height="101" fill="#000"/>
<rect x="1227" y="577" width="1" height="101" fill="#000"/>
<rect x="2" y="679" width="1226" height="1" fill="#000"/>
<rect x="2" y="779" width="1226" height="1" fill="#000"/>
<rect x="2" y="679" width="1" height="101" fill="#000"/>
<rect x="1227" y="679" width="1" height="101" fill="#000"/>
<rect x="1228" y="24" width="4" height="1" fill="#000"/>
<rect x="1228" y="56" width="4" height="1" fill="#000"/>
<rect x="1228" y="88" width="4" height="1" fill="#000"/>
<rect x="1228" y="120" width="4" height="1" fill="#000"/>
<rect x="1228" y="152" width="4" height="1" fill="#000"/>
<rect x="1228" y="184" width="4" height="1" fill="#000"/>
<rect x="1228" y="216" width="4" height="1" fill="#000"/>
<rect x="1228" y="249" width="4" height="1" fill="#000"/>
<rect x="1228" y="281" width="4" height="1" fill="#000"/>
<rect x="1228" y="313" width="4" height="1" fill="#000"/>
<rect x="1228" y="345" width="4" height="1" fill="#000"/>
<rect x="1228" y="377" width="4" height="1" fill="#000"/>
<rect x="1228" y="409" width="4" height="1" fill="#000"/>
<rect x="1228" y="441" width="4" height="1" fill="#000"/>
<rect x="1228" y="476" width="4" height="1" fill="#000"/>
<rect x="1228" y="574" width="4" height="1" fill="#000"/>
<rect x="1228" y="578" width="4" height="1" fill="#000"/>
<rect x="1228" y="676" width="4" height="1" fill="#000"/>
<rect x="1228" y="680" width="4" height="1" fill="#000"/>
<rect x="1228" y="778" width="4" height="1" fill="#000"/>
<rect x="2" y="780" width="1" height="4" fill="#000"/>
<rect x="66" y="780" width="1" height="4" fill="#000"/>
<rect x="130" y="780" width="1" height="4" fill="#000"/>
<rect x="194" y="780" width="1" height="4" fill="#000"/>
<rect x="258" y="780" width="1" height="4" fill="#000"/>
<rect x="322" y="780" width="1" height="4" fill="#000"/>
<rect x="386" y="780" width="1" height="4" fill="#000"/>
<rect x="450" y="780" width="1" height="4" fill="#000"/>
<rect x="514" y="780" width="1" height="4" fill="#000"/>
<rect x="578" y="780" width="1" height="4" fill="#000"/>
<rect x="642" y="780" width="1" height="4" fill="#000"/>
<rect x="706" y="780" width="1" height="4" fill="#000"/>
<rect x="770" y="780" width="1" height="4" fill="#000"/>
<rect x="834" y="780" width="1" height="4" fill="#000"/>
<rect x="898" y="780" width="1" height="4" fill="#000"/>
<rect x="962" y="780" width="1" height="4" fill="#000"/>
<rect x="1026" y="780" width="1" height="4" fill="#000"/>
<rect x="1090" y="780" width="1" height="4" fill="#000"/>
<g font-family="'Liberation Sans', sans-serif" font-size="9px" opacity="0.999" shape-rendering="geometricPrecision">
<text transform="translate(1233,27.7) scale(1,1.04)" stroke="#000" stroke-width="0.15" textLength="33" lengthAdjust="spacing" fill="#000">5970.50</text>
<text transform="translate(1233,59.7) scale(1,1.04)" stroke="#000" stroke-width="0.15" textLength="33" lengthAdjust="spacing" fill="#000">5960.35</text>
<text transform="translate(1233,91.7) scale(1,1.04)" stroke="#000" stroke-width="0.15" textLength="33" lengthAdjust="spacing" fill="#000">5950.20</text>
<text transform="translate(1233,123.7) scale(1,1.04)" stroke="#000" stroke-width="0.15" textLength="33" lengthAdjust="spacing" fill="#000">5940.05</text>
<text transform="translate(1233,155.7) scale(1,1.04)" stroke="#000" stroke-width="0.15" textLength="33" lengthAdjust="spacing" fill="#000">5929.90</text>
<text transform="translate(1233,187.7) scale(1,1.04)" stroke="#000" stroke-width="0.15" textLength="33" lengthAdjust="spacing" fill="#000">5919.75</text>
<text transform="translate(1233,219.7) scale(1,1.04)" stroke="#000" stroke-width="0.15" textLength="33" lengthAdjust="spacing" fill="#000">5909.60</text>
<text transform="translate(1233,252.7) scale(1,1.04)" stroke="#000" stroke-width="0.15" textLength="33" lengthAdjust="spacing" fill="#000">5899.45</text>
<text transform="translate(1233,284.7) scale(1,1.04)" stroke="#000" stroke-width="0.15" textLength="33" lengthAdjust="spacing" fill="#000">5889.30</text>
<text transform="translate(1233,316.7) scale(1,1.04)" stroke="#000" stroke-width="0.15" textLength="33" lengthAdjust="spacing" fill="#000">5879.15</text>
<text transform="translate(1233,348.7) scale(1,1.04)" stroke="#000" stroke-width="0.15" textLength="33" lengthAdjust="spacing" fill="#000">5869.00</text>
<text transform="translate(1233,380.7) scale(1,1.04)" stroke="#000" stroke-width="0.15" textLength="33" lengthAdjust="spacing" fill="#000">5858.85</text>
<text transform="translate(1233,412.7) scale(1,1.04)" stroke="#000" stroke-width="0.15" textLength="33" lengthAdjust="spacing" fill="#000">5848.70</text>
<text transform="translate(1233,444.7) scale(1,1.04)" stroke="#000" stroke-width="0.15" textLength="33" lengthAdjust="spacing" fill="#000">5838.55</text>
<rect x="1230" y="429" width="39" height="11" fill="#c80000" shape-rendering="crispEdges"/>
<text transform="translate(1233,437.7) scale(1,1.04)" stroke="#fff" stroke-width="0.15" textLength="33" lengthAdjust="spacing" fill="#fff">5840.83</text>
<text transform="translate(1233,483.7) scale(1,1.04)" stroke="#000" stroke-width="0.15" textLength="28" lengthAdjust="spacing" fill="#000">57.218</text>
<text transform="translate(1233,528.7) scale(1,1.04)" stroke="#000" stroke-width="0.15" textLength="23" lengthAdjust="spacing" fill="#000">0.000</text>
<text transform="translate(1233,572.7) scale(1,1.04)" stroke="#000" stroke-width="0.15" textLength="32" lengthAdjust="spacing" fill="#000">-54.953</text>
<text transform="translate(1233,585.7) scale(1,1.04)" stroke="#000" stroke-width="0.15" textLength="33" lengthAdjust="spacing" fill="#000">26.7974</text>
<text transform="translate(1233,631.7) scale(1,1.04)" stroke="#000" stroke-width="0.15" textLength="28" lengthAdjust="spacing" fill="#000">0.0000</text>
<text transform="translate(1233,674.7) scale(1,1.04)" stroke="#000" stroke-width="0.15" textLength="37" lengthAdjust="spacing" fill="#000">-25.1510</text>
<text transform="translate(1233,687.7) scale(1,1.04)" stroke="#000" stroke-width="0.15" textLength="28" lengthAdjust="spacing" fill="#000">38.350</text>
<text transform="translate(1233,734.7) scale(1,1.04)" stroke="#000" stroke-width="0.15" textLength="23" lengthAdjust="spacing" fill="#000">0.000</text>
<text transform="translate(1233,776.7) scale(1,1.04)" stroke="#000" stroke-width="0.15" textLength="32" lengthAdjust="spacing" fill="#000">-34.284</text>
<text transform="translate(6,487.7) scale(1,1.04)" stroke="#000" stroke-width="0.15" textLength="65" lengthAdjust="spacing" fill="#000">AOcust -45.219</text>
<text transform="translate(6,589.7) scale(1,1.04)" stroke="#000" stroke-width="0.15" textLength="69" lengthAdjust="spacing" fill="#000">ACcust -20.6431</text>
<text transform="translate(6,691.7) scale(1,1.04)" stroke="#000" stroke-width="0.15" textLength="106" lengthAdjust="spacing" fill="#000">GatorCust 26.783 -27.981</text>
<text transform="translate(3,791.3000000000001) scale(1,1.04)" stroke="#000" stroke-width="0.15" textLength="53" lengthAdjust="spacing" fill="#000">14 May 2025</text>
<text transform="translate(67,791.3000000000001) scale(1,1.04)" stroke="#000" stroke-width="0.15" textLength="56" lengthAdjust="spacing" fill="#000">14 May 09:00</text>
<text transform="translate(131,791.3000000000001) scale(1,1.04)" stroke="#000" stroke-width="0.15" textLength="56" lengthAdjust="spacing" fill="#000">14 May 17:00</text>
<text transform="translate(195,791.3000000000001) scale(1,1.04)" stroke="#000" stroke-width="0.15" textLength="56" lengthAdjust="spacing" fill="#000">15 May 02:00</text>
<text transform="translate(259,791.3000000000001) scale(1,1.04)" stroke="#000" stroke-width="0.15" textLength="56" lengthAdjust="spacing" fill="#000">15 May 10:00</text>
<text transform="translate(323,791.3000000000001) scale(1,1.04)" stroke="#000" stroke-width="0.15" textLength="56" lengthAdjust="spacing" fill="#000">15 May 18:00</text>
<text transform="translate(387,791.3000000000001) scale(1,1.04)" stroke="#000" stroke-width="0.15" textLength="56" lengthAdjust="spacing" fill="#000">16 May 03:00</text>
<text transform="translate(451,791.3000000000001) scale(1,1.04)" stroke="#000" stroke-width="0.15" textLength="56" lengthAdjust="spacing" fill="#000">16 May 11:00</text>
<text transform="translate(515,791.3000000000001) scale(1,1.04)" stroke="#000" stroke-width="0.15" textLength="56" lengthAdjust="spacing" fill="#000">16 May 19:00</text>
<text transform="translate(579,791.3000000000001) scale(1,1.04)" stroke="#000" stroke-width="0.15" textLength="56" lengthAdjust="spacing" fill="#000">19 May 04:00</text>
<text transform="translate(643,791.3000000000001) scale(1,1.04)" stroke="#000" stroke-width="0.15" textLength="56" lengthAdjust="spacing" fill="#000">19 May 12:00</text>
<text transform="translate(707,791.3000000000001) scale(1,1.04)" stroke="#000" stroke-width="0.15" textLength="56" lengthAdjust="spacing" fill="#000">19 May 20:00</text>
<text transform="translate(771,791.3000000000001) scale(1,1.04)" stroke="#000" stroke-width="0.15" textLength="56" lengthAdjust="spacing" fill="#000">20 May 05:00</text>
<text transform="translate(835,791.3000000000001) scale(1,1.04)" stroke="#000" stroke-width="0.15" textLength="56" lengthAdjust="spacing" fill="#000">20 May 13:00</text>
<text transform="translate(899,791.3000000000001) scale(1,1.04)" stroke="#000" stroke-width="0.15" textLength="56" lengthAdjust="spacing" fill="#000">20 May 21:00</text>
<text transform="translate(963,791.3000000000001) scale(1,1.04)" stroke="#000" stroke-width="0.15" textLength="56" lengthAdjust="spacing" fill="#000">21 May 06:00</text>
<text transform="translate(1027,791.3000000000001) scale(1,1.04)" stroke="#000" stroke-width="0.15" textLength="56" lengthAdjust="spacing" fill="#000">21 May 14:00</text>
<text transform="translate(1091,791.3000000000001) scale(1,1.04)" stroke="#000" stroke-width="0.15" textLength="56" lengthAdjust="spacing" fill="#000">21 May 22:00</text>
</g>
</svg></body></html>
